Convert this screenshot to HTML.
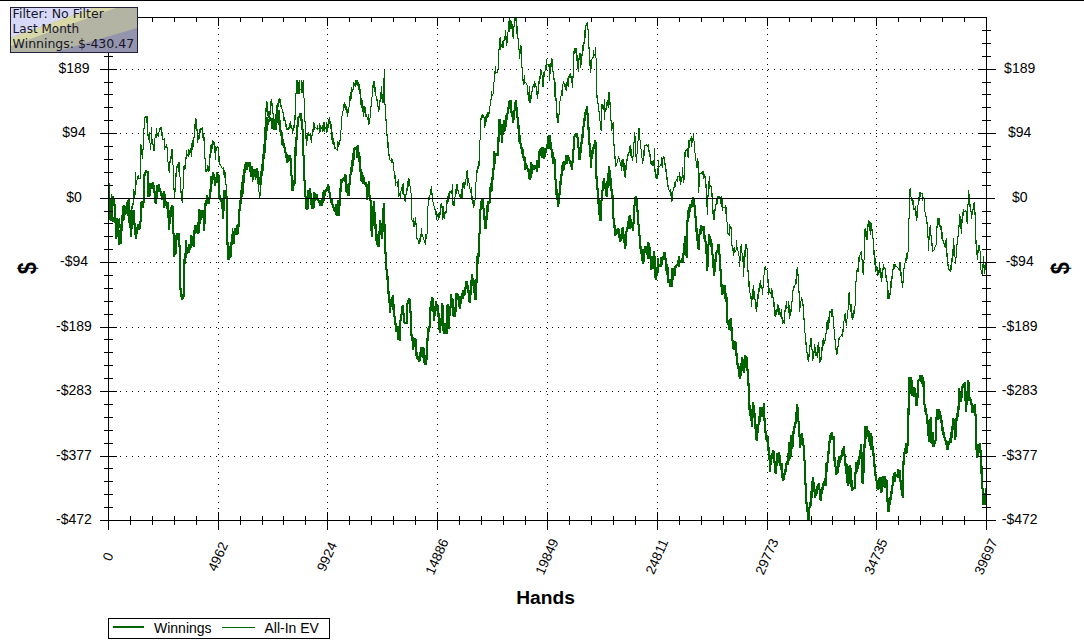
<!DOCTYPE html>
<html lang="en"><head><meta charset="utf-8"><title>Winnings chart</title>
<style>html,body{margin:0;padding:0;background:#fff;overflow:hidden}svg{display:block}</style></head>
<body>
<svg width="1084" height="643" viewBox="0 0 1084 643" style="display:block">
<rect x="0" y="0" width="1084" height="643" fill="#fff"/>
<rect x="0" y="0" width="1084" height="1" fill="#000"/>
<g fill="#000" shape-rendering="crispEdges"><path d="M114 456h1v1h-1zM120 456h1v1h-1zM126 456h1v1h-1zM132 456h1v1h-1zM138 456h1v1h-1zM144 456h1v1h-1zM150 456h1v1h-1zM156 456h1v1h-1zM162 456h1v1h-1zM168 456h1v1h-1zM174 456h1v1h-1zM180 456h1v1h-1zM186 456h1v1h-1zM192 456h1v1h-1zM198 456h1v1h-1zM204 456h1v1h-1zM210 456h1v1h-1zM216 456h1v1h-1zM222 456h1v1h-1zM228 456h1v1h-1zM234 456h1v1h-1zM240 456h1v1h-1zM246 456h1v1h-1zM252 456h1v1h-1zM258 456h1v1h-1zM264 456h1v1h-1zM270 456h1v1h-1zM276 456h1v1h-1zM282 456h1v1h-1zM288 456h1v1h-1zM294 456h1v1h-1zM300 456h1v1h-1zM306 456h1v1h-1zM312 456h1v1h-1zM318 456h1v1h-1zM324 456h1v1h-1zM330 456h1v1h-1zM336 456h1v1h-1zM342 456h1v1h-1zM348 456h1v1h-1zM354 456h1v1h-1zM360 456h1v1h-1zM366 456h1v1h-1zM372 456h1v1h-1zM378 456h1v1h-1zM384 456h1v1h-1zM390 456h1v1h-1zM396 456h1v1h-1zM402 456h1v1h-1zM408 456h1v1h-1zM414 456h1v1h-1zM420 456h1v1h-1zM426 456h1v1h-1zM432 456h1v1h-1zM438 456h1v1h-1zM444 456h1v1h-1zM450 456h1v1h-1zM456 456h1v1h-1zM462 456h1v1h-1zM468 456h1v1h-1zM474 456h1v1h-1zM480 456h1v1h-1zM486 456h1v1h-1zM492 456h1v1h-1zM498 456h1v1h-1zM504 456h1v1h-1zM510 456h1v1h-1zM516 456h1v1h-1zM522 456h1v1h-1zM528 456h1v1h-1zM534 456h1v1h-1zM540 456h1v1h-1zM546 456h1v1h-1zM552 456h1v1h-1zM558 456h1v1h-1zM564 456h1v1h-1zM570 456h1v1h-1zM576 456h1v1h-1zM582 456h1v1h-1zM588 456h1v1h-1zM594 456h1v1h-1zM600 456h1v1h-1zM606 456h1v1h-1zM612 456h1v1h-1zM618 456h1v1h-1zM624 456h1v1h-1zM630 456h1v1h-1zM636 456h1v1h-1zM642 456h1v1h-1zM648 456h1v1h-1zM654 456h1v1h-1zM660 456h1v1h-1zM666 456h1v1h-1zM672 456h1v1h-1zM678 456h1v1h-1zM684 456h1v1h-1zM690 456h1v1h-1zM696 456h1v1h-1zM702 456h1v1h-1zM708 456h1v1h-1zM714 456h1v1h-1zM720 456h1v1h-1zM726 456h1v1h-1zM732 456h1v1h-1zM738 456h1v1h-1zM744 456h1v1h-1zM750 456h1v1h-1zM756 456h1v1h-1zM762 456h1v1h-1zM768 456h1v1h-1zM774 456h1v1h-1zM780 456h1v1h-1zM786 456h1v1h-1zM792 456h1v1h-1zM798 456h1v1h-1zM804 456h1v1h-1zM810 456h1v1h-1zM816 456h1v1h-1zM822 456h1v1h-1zM828 456h1v1h-1zM834 456h1v1h-1zM840 456h1v1h-1zM846 456h1v1h-1zM852 456h1v1h-1zM858 456h1v1h-1zM864 456h1v1h-1zM870 456h1v1h-1zM876 456h1v1h-1zM882 456h1v1h-1zM888 456h1v1h-1zM894 456h1v1h-1zM900 456h1v1h-1zM906 456h1v1h-1zM912 456h1v1h-1zM918 456h1v1h-1zM924 456h1v1h-1zM930 456h1v1h-1zM936 456h1v1h-1zM942 456h1v1h-1zM948 456h1v1h-1zM954 456h1v1h-1zM960 456h1v1h-1zM966 456h1v1h-1zM972 456h1v1h-1zM978 456h1v1h-1zM984 456h1v1h-1zM114 391h1v1h-1zM120 391h1v1h-1zM126 391h1v1h-1zM132 391h1v1h-1zM138 391h1v1h-1zM144 391h1v1h-1zM150 391h1v1h-1zM156 391h1v1h-1zM162 391h1v1h-1zM168 391h1v1h-1zM174 391h1v1h-1zM180 391h1v1h-1zM186 391h1v1h-1zM192 391h1v1h-1zM198 391h1v1h-1zM204 391h1v1h-1zM210 391h1v1h-1zM216 391h1v1h-1zM222 391h1v1h-1zM228 391h1v1h-1zM234 391h1v1h-1zM240 391h1v1h-1zM246 391h1v1h-1zM252 391h1v1h-1zM258 391h1v1h-1zM264 391h1v1h-1zM270 391h1v1h-1zM276 391h1v1h-1zM282 391h1v1h-1zM288 391h1v1h-1zM294 391h1v1h-1zM300 391h1v1h-1zM306 391h1v1h-1zM312 391h1v1h-1zM318 391h1v1h-1zM324 391h1v1h-1zM330 391h1v1h-1zM336 391h1v1h-1zM342 391h1v1h-1zM348 391h1v1h-1zM354 391h1v1h-1zM360 391h1v1h-1zM366 391h1v1h-1zM372 391h1v1h-1zM378 391h1v1h-1zM384 391h1v1h-1zM390 391h1v1h-1zM396 391h1v1h-1zM402 391h1v1h-1zM408 391h1v1h-1zM414 391h1v1h-1zM420 391h1v1h-1zM426 391h1v1h-1zM432 391h1v1h-1zM438 391h1v1h-1zM444 391h1v1h-1zM450 391h1v1h-1zM456 391h1v1h-1zM462 391h1v1h-1zM468 391h1v1h-1zM474 391h1v1h-1zM480 391h1v1h-1zM486 391h1v1h-1zM492 391h1v1h-1zM498 391h1v1h-1zM504 391h1v1h-1zM510 391h1v1h-1zM516 391h1v1h-1zM522 391h1v1h-1zM528 391h1v1h-1zM534 391h1v1h-1zM540 391h1v1h-1zM546 391h1v1h-1zM552 391h1v1h-1zM558 391h1v1h-1zM564 391h1v1h-1zM570 391h1v1h-1zM576 391h1v1h-1zM582 391h1v1h-1zM588 391h1v1h-1zM594 391h1v1h-1zM600 391h1v1h-1zM606 391h1v1h-1zM612 391h1v1h-1zM618 391h1v1h-1zM624 391h1v1h-1zM630 391h1v1h-1zM636 391h1v1h-1zM642 391h1v1h-1zM648 391h1v1h-1zM654 391h1v1h-1zM660 391h1v1h-1zM666 391h1v1h-1zM672 391h1v1h-1zM678 391h1v1h-1zM684 391h1v1h-1zM690 391h1v1h-1zM696 391h1v1h-1zM702 391h1v1h-1zM708 391h1v1h-1zM714 391h1v1h-1zM720 391h1v1h-1zM726 391h1v1h-1zM732 391h1v1h-1zM738 391h1v1h-1zM744 391h1v1h-1zM750 391h1v1h-1zM756 391h1v1h-1zM762 391h1v1h-1zM768 391h1v1h-1zM774 391h1v1h-1zM780 391h1v1h-1zM786 391h1v1h-1zM792 391h1v1h-1zM798 391h1v1h-1zM804 391h1v1h-1zM810 391h1v1h-1zM816 391h1v1h-1zM822 391h1v1h-1zM828 391h1v1h-1zM834 391h1v1h-1zM840 391h1v1h-1zM846 391h1v1h-1zM852 391h1v1h-1zM858 391h1v1h-1zM864 391h1v1h-1zM870 391h1v1h-1zM876 391h1v1h-1zM882 391h1v1h-1zM888 391h1v1h-1zM894 391h1v1h-1zM900 391h1v1h-1zM906 391h1v1h-1zM912 391h1v1h-1zM918 391h1v1h-1zM924 391h1v1h-1zM930 391h1v1h-1zM936 391h1v1h-1zM942 391h1v1h-1zM948 391h1v1h-1zM954 391h1v1h-1zM960 391h1v1h-1zM966 391h1v1h-1zM972 391h1v1h-1zM978 391h1v1h-1zM984 391h1v1h-1zM114 327h1v1h-1zM120 327h1v1h-1zM126 327h1v1h-1zM132 327h1v1h-1zM138 327h1v1h-1zM144 327h1v1h-1zM150 327h1v1h-1zM156 327h1v1h-1zM162 327h1v1h-1zM168 327h1v1h-1zM174 327h1v1h-1zM180 327h1v1h-1zM186 327h1v1h-1zM192 327h1v1h-1zM198 327h1v1h-1zM204 327h1v1h-1zM210 327h1v1h-1zM216 327h1v1h-1zM222 327h1v1h-1zM228 327h1v1h-1zM234 327h1v1h-1zM240 327h1v1h-1zM246 327h1v1h-1zM252 327h1v1h-1zM258 327h1v1h-1zM264 327h1v1h-1zM270 327h1v1h-1zM276 327h1v1h-1zM282 327h1v1h-1zM288 327h1v1h-1zM294 327h1v1h-1zM300 327h1v1h-1zM306 327h1v1h-1zM312 327h1v1h-1zM318 327h1v1h-1zM324 327h1v1h-1zM330 327h1v1h-1zM336 327h1v1h-1zM342 327h1v1h-1zM348 327h1v1h-1zM354 327h1v1h-1zM360 327h1v1h-1zM366 327h1v1h-1zM372 327h1v1h-1zM378 327h1v1h-1zM384 327h1v1h-1zM390 327h1v1h-1zM396 327h1v1h-1zM402 327h1v1h-1zM408 327h1v1h-1zM414 327h1v1h-1zM420 327h1v1h-1zM426 327h1v1h-1zM432 327h1v1h-1zM438 327h1v1h-1zM444 327h1v1h-1zM450 327h1v1h-1zM456 327h1v1h-1zM462 327h1v1h-1zM468 327h1v1h-1zM474 327h1v1h-1zM480 327h1v1h-1zM486 327h1v1h-1zM492 327h1v1h-1zM498 327h1v1h-1zM504 327h1v1h-1zM510 327h1v1h-1zM516 327h1v1h-1zM522 327h1v1h-1zM528 327h1v1h-1zM534 327h1v1h-1zM540 327h1v1h-1zM546 327h1v1h-1zM552 327h1v1h-1zM558 327h1v1h-1zM564 327h1v1h-1zM570 327h1v1h-1zM576 327h1v1h-1zM582 327h1v1h-1zM588 327h1v1h-1zM594 327h1v1h-1zM600 327h1v1h-1zM606 327h1v1h-1zM612 327h1v1h-1zM618 327h1v1h-1zM624 327h1v1h-1zM630 327h1v1h-1zM636 327h1v1h-1zM642 327h1v1h-1zM648 327h1v1h-1zM654 327h1v1h-1zM660 327h1v1h-1zM666 327h1v1h-1zM672 327h1v1h-1zM678 327h1v1h-1zM684 327h1v1h-1zM690 327h1v1h-1zM696 327h1v1h-1zM702 327h1v1h-1zM708 327h1v1h-1zM714 327h1v1h-1zM720 327h1v1h-1zM726 327h1v1h-1zM732 327h1v1h-1zM738 327h1v1h-1zM744 327h1v1h-1zM750 327h1v1h-1zM756 327h1v1h-1zM762 327h1v1h-1zM768 327h1v1h-1zM774 327h1v1h-1zM780 327h1v1h-1zM786 327h1v1h-1zM792 327h1v1h-1zM798 327h1v1h-1zM804 327h1v1h-1zM810 327h1v1h-1zM816 327h1v1h-1zM822 327h1v1h-1zM828 327h1v1h-1zM834 327h1v1h-1zM840 327h1v1h-1zM846 327h1v1h-1zM852 327h1v1h-1zM858 327h1v1h-1zM864 327h1v1h-1zM870 327h1v1h-1zM876 327h1v1h-1zM882 327h1v1h-1zM888 327h1v1h-1zM894 327h1v1h-1zM900 327h1v1h-1zM906 327h1v1h-1zM912 327h1v1h-1zM918 327h1v1h-1zM924 327h1v1h-1zM930 327h1v1h-1zM936 327h1v1h-1zM942 327h1v1h-1zM948 327h1v1h-1zM954 327h1v1h-1zM960 327h1v1h-1zM966 327h1v1h-1zM972 327h1v1h-1zM978 327h1v1h-1zM984 327h1v1h-1zM114 262h1v1h-1zM120 262h1v1h-1zM126 262h1v1h-1zM132 262h1v1h-1zM138 262h1v1h-1zM144 262h1v1h-1zM150 262h1v1h-1zM156 262h1v1h-1zM162 262h1v1h-1zM168 262h1v1h-1zM174 262h1v1h-1zM180 262h1v1h-1zM186 262h1v1h-1zM192 262h1v1h-1zM198 262h1v1h-1zM204 262h1v1h-1zM210 262h1v1h-1zM216 262h1v1h-1zM222 262h1v1h-1zM228 262h1v1h-1zM234 262h1v1h-1zM240 262h1v1h-1zM246 262h1v1h-1zM252 262h1v1h-1zM258 262h1v1h-1zM264 262h1v1h-1zM270 262h1v1h-1zM276 262h1v1h-1zM282 262h1v1h-1zM288 262h1v1h-1zM294 262h1v1h-1zM300 262h1v1h-1zM306 262h1v1h-1zM312 262h1v1h-1zM318 262h1v1h-1zM324 262h1v1h-1zM330 262h1v1h-1zM336 262h1v1h-1zM342 262h1v1h-1zM348 262h1v1h-1zM354 262h1v1h-1zM360 262h1v1h-1zM366 262h1v1h-1zM372 262h1v1h-1zM378 262h1v1h-1zM384 262h1v1h-1zM390 262h1v1h-1zM396 262h1v1h-1zM402 262h1v1h-1zM408 262h1v1h-1zM414 262h1v1h-1zM420 262h1v1h-1zM426 262h1v1h-1zM432 262h1v1h-1zM438 262h1v1h-1zM444 262h1v1h-1zM450 262h1v1h-1zM456 262h1v1h-1zM462 262h1v1h-1zM468 262h1v1h-1zM474 262h1v1h-1zM480 262h1v1h-1zM486 262h1v1h-1zM492 262h1v1h-1zM498 262h1v1h-1zM504 262h1v1h-1zM510 262h1v1h-1zM516 262h1v1h-1zM522 262h1v1h-1zM528 262h1v1h-1zM534 262h1v1h-1zM540 262h1v1h-1zM546 262h1v1h-1zM552 262h1v1h-1zM558 262h1v1h-1zM564 262h1v1h-1zM570 262h1v1h-1zM576 262h1v1h-1zM582 262h1v1h-1zM588 262h1v1h-1zM594 262h1v1h-1zM600 262h1v1h-1zM606 262h1v1h-1zM612 262h1v1h-1zM618 262h1v1h-1zM624 262h1v1h-1zM630 262h1v1h-1zM636 262h1v1h-1zM642 262h1v1h-1zM648 262h1v1h-1zM654 262h1v1h-1zM660 262h1v1h-1zM666 262h1v1h-1zM672 262h1v1h-1zM678 262h1v1h-1zM684 262h1v1h-1zM690 262h1v1h-1zM696 262h1v1h-1zM702 262h1v1h-1zM708 262h1v1h-1zM714 262h1v1h-1zM720 262h1v1h-1zM726 262h1v1h-1zM732 262h1v1h-1zM738 262h1v1h-1zM744 262h1v1h-1zM750 262h1v1h-1zM756 262h1v1h-1zM762 262h1v1h-1zM768 262h1v1h-1zM774 262h1v1h-1zM780 262h1v1h-1zM786 262h1v1h-1zM792 262h1v1h-1zM798 262h1v1h-1zM804 262h1v1h-1zM810 262h1v1h-1zM816 262h1v1h-1zM822 262h1v1h-1zM828 262h1v1h-1zM834 262h1v1h-1zM840 262h1v1h-1zM846 262h1v1h-1zM852 262h1v1h-1zM858 262h1v1h-1zM864 262h1v1h-1zM870 262h1v1h-1zM876 262h1v1h-1zM882 262h1v1h-1zM888 262h1v1h-1zM894 262h1v1h-1zM900 262h1v1h-1zM906 262h1v1h-1zM912 262h1v1h-1zM918 262h1v1h-1zM924 262h1v1h-1zM930 262h1v1h-1zM936 262h1v1h-1zM942 262h1v1h-1zM948 262h1v1h-1zM954 262h1v1h-1zM960 262h1v1h-1zM966 262h1v1h-1zM972 262h1v1h-1zM978 262h1v1h-1zM984 262h1v1h-1zM114 133h1v1h-1zM120 133h1v1h-1zM126 133h1v1h-1zM132 133h1v1h-1zM138 133h1v1h-1zM144 133h1v1h-1zM150 133h1v1h-1zM156 133h1v1h-1zM162 133h1v1h-1zM168 133h1v1h-1zM174 133h1v1h-1zM180 133h1v1h-1zM186 133h1v1h-1zM192 133h1v1h-1zM198 133h1v1h-1zM204 133h1v1h-1zM210 133h1v1h-1zM216 133h1v1h-1zM222 133h1v1h-1zM228 133h1v1h-1zM234 133h1v1h-1zM240 133h1v1h-1zM246 133h1v1h-1zM252 133h1v1h-1zM258 133h1v1h-1zM264 133h1v1h-1zM270 133h1v1h-1zM276 133h1v1h-1zM282 133h1v1h-1zM288 133h1v1h-1zM294 133h1v1h-1zM300 133h1v1h-1zM306 133h1v1h-1zM312 133h1v1h-1zM318 133h1v1h-1zM324 133h1v1h-1zM330 133h1v1h-1zM336 133h1v1h-1zM342 133h1v1h-1zM348 133h1v1h-1zM354 133h1v1h-1zM360 133h1v1h-1zM366 133h1v1h-1zM372 133h1v1h-1zM378 133h1v1h-1zM384 133h1v1h-1zM390 133h1v1h-1zM396 133h1v1h-1zM402 133h1v1h-1zM408 133h1v1h-1zM414 133h1v1h-1zM420 133h1v1h-1zM426 133h1v1h-1zM432 133h1v1h-1zM438 133h1v1h-1zM444 133h1v1h-1zM450 133h1v1h-1zM456 133h1v1h-1zM462 133h1v1h-1zM468 133h1v1h-1zM474 133h1v1h-1zM480 133h1v1h-1zM486 133h1v1h-1zM492 133h1v1h-1zM498 133h1v1h-1zM504 133h1v1h-1zM510 133h1v1h-1zM516 133h1v1h-1zM522 133h1v1h-1zM528 133h1v1h-1zM534 133h1v1h-1zM540 133h1v1h-1zM546 133h1v1h-1zM552 133h1v1h-1zM558 133h1v1h-1zM564 133h1v1h-1zM570 133h1v1h-1zM576 133h1v1h-1zM582 133h1v1h-1zM588 133h1v1h-1zM594 133h1v1h-1zM600 133h1v1h-1zM606 133h1v1h-1zM612 133h1v1h-1zM618 133h1v1h-1zM624 133h1v1h-1zM630 133h1v1h-1zM636 133h1v1h-1zM642 133h1v1h-1zM648 133h1v1h-1zM654 133h1v1h-1zM660 133h1v1h-1zM666 133h1v1h-1zM672 133h1v1h-1zM678 133h1v1h-1zM684 133h1v1h-1zM690 133h1v1h-1zM696 133h1v1h-1zM702 133h1v1h-1zM708 133h1v1h-1zM714 133h1v1h-1zM720 133h1v1h-1zM726 133h1v1h-1zM732 133h1v1h-1zM738 133h1v1h-1zM744 133h1v1h-1zM750 133h1v1h-1zM756 133h1v1h-1zM762 133h1v1h-1zM768 133h1v1h-1zM774 133h1v1h-1zM780 133h1v1h-1zM786 133h1v1h-1zM792 133h1v1h-1zM798 133h1v1h-1zM804 133h1v1h-1zM810 133h1v1h-1zM816 133h1v1h-1zM822 133h1v1h-1zM828 133h1v1h-1zM834 133h1v1h-1zM840 133h1v1h-1zM846 133h1v1h-1zM852 133h1v1h-1zM858 133h1v1h-1zM864 133h1v1h-1zM870 133h1v1h-1zM876 133h1v1h-1zM882 133h1v1h-1zM888 133h1v1h-1zM894 133h1v1h-1zM900 133h1v1h-1zM906 133h1v1h-1zM912 133h1v1h-1zM918 133h1v1h-1zM924 133h1v1h-1zM930 133h1v1h-1zM936 133h1v1h-1zM942 133h1v1h-1zM948 133h1v1h-1zM954 133h1v1h-1zM960 133h1v1h-1zM966 133h1v1h-1zM972 133h1v1h-1zM978 133h1v1h-1zM984 133h1v1h-1zM114 69h1v1h-1zM120 69h1v1h-1zM126 69h1v1h-1zM132 69h1v1h-1zM138 69h1v1h-1zM144 69h1v1h-1zM150 69h1v1h-1zM156 69h1v1h-1zM162 69h1v1h-1zM168 69h1v1h-1zM174 69h1v1h-1zM180 69h1v1h-1zM186 69h1v1h-1zM192 69h1v1h-1zM198 69h1v1h-1zM204 69h1v1h-1zM210 69h1v1h-1zM216 69h1v1h-1zM222 69h1v1h-1zM228 69h1v1h-1zM234 69h1v1h-1zM240 69h1v1h-1zM246 69h1v1h-1zM252 69h1v1h-1zM258 69h1v1h-1zM264 69h1v1h-1zM270 69h1v1h-1zM276 69h1v1h-1zM282 69h1v1h-1zM288 69h1v1h-1zM294 69h1v1h-1zM300 69h1v1h-1zM306 69h1v1h-1zM312 69h1v1h-1zM318 69h1v1h-1zM324 69h1v1h-1zM330 69h1v1h-1zM336 69h1v1h-1zM342 69h1v1h-1zM348 69h1v1h-1zM354 69h1v1h-1zM360 69h1v1h-1zM366 69h1v1h-1zM372 69h1v1h-1zM378 69h1v1h-1zM384 69h1v1h-1zM390 69h1v1h-1zM396 69h1v1h-1zM402 69h1v1h-1zM408 69h1v1h-1zM414 69h1v1h-1zM420 69h1v1h-1zM426 69h1v1h-1zM432 69h1v1h-1zM438 69h1v1h-1zM444 69h1v1h-1zM450 69h1v1h-1zM456 69h1v1h-1zM462 69h1v1h-1zM468 69h1v1h-1zM474 69h1v1h-1zM480 69h1v1h-1zM486 69h1v1h-1zM492 69h1v1h-1zM498 69h1v1h-1zM504 69h1v1h-1zM510 69h1v1h-1zM516 69h1v1h-1zM522 69h1v1h-1zM528 69h1v1h-1zM534 69h1v1h-1zM540 69h1v1h-1zM546 69h1v1h-1zM552 69h1v1h-1zM558 69h1v1h-1zM564 69h1v1h-1zM570 69h1v1h-1zM576 69h1v1h-1zM582 69h1v1h-1zM588 69h1v1h-1zM594 69h1v1h-1zM600 69h1v1h-1zM606 69h1v1h-1zM612 69h1v1h-1zM618 69h1v1h-1zM624 69h1v1h-1zM630 69h1v1h-1zM636 69h1v1h-1zM642 69h1v1h-1zM648 69h1v1h-1zM654 69h1v1h-1zM660 69h1v1h-1zM666 69h1v1h-1zM672 69h1v1h-1zM678 69h1v1h-1zM684 69h1v1h-1zM690 69h1v1h-1zM696 69h1v1h-1zM702 69h1v1h-1zM708 69h1v1h-1zM714 69h1v1h-1zM720 69h1v1h-1zM726 69h1v1h-1zM732 69h1v1h-1zM738 69h1v1h-1zM744 69h1v1h-1zM750 69h1v1h-1zM756 69h1v1h-1zM762 69h1v1h-1zM768 69h1v1h-1zM774 69h1v1h-1zM780 69h1v1h-1zM786 69h1v1h-1zM792 69h1v1h-1zM798 69h1v1h-1zM804 69h1v1h-1zM810 69h1v1h-1zM816 69h1v1h-1zM822 69h1v1h-1zM828 69h1v1h-1zM834 69h1v1h-1zM840 69h1v1h-1zM846 69h1v1h-1zM852 69h1v1h-1zM858 69h1v1h-1zM864 69h1v1h-1zM870 69h1v1h-1zM876 69h1v1h-1zM882 69h1v1h-1zM888 69h1v1h-1zM894 69h1v1h-1zM900 69h1v1h-1zM906 69h1v1h-1zM912 69h1v1h-1zM918 69h1v1h-1zM924 69h1v1h-1zM930 69h1v1h-1zM936 69h1v1h-1zM942 69h1v1h-1zM948 69h1v1h-1zM954 69h1v1h-1zM960 69h1v1h-1zM966 69h1v1h-1zM972 69h1v1h-1zM978 69h1v1h-1zM984 69h1v1h-1zM218 514h1v1h-1zM218 508h1v1h-1zM218 502h1v1h-1zM218 496h1v1h-1zM218 490h1v1h-1zM218 484h1v1h-1zM218 478h1v1h-1zM218 472h1v1h-1zM218 466h1v1h-1zM218 460h1v1h-1zM218 454h1v1h-1zM218 448h1v1h-1zM218 442h1v1h-1zM218 436h1v1h-1zM218 430h1v1h-1zM218 424h1v1h-1zM218 418h1v1h-1zM218 412h1v1h-1zM218 406h1v1h-1zM218 400h1v1h-1zM218 394h1v1h-1zM218 388h1v1h-1zM218 382h1v1h-1zM218 376h1v1h-1zM218 370h1v1h-1zM218 364h1v1h-1zM218 358h1v1h-1zM218 352h1v1h-1zM218 346h1v1h-1zM218 340h1v1h-1zM218 334h1v1h-1zM218 328h1v1h-1zM218 322h1v1h-1zM218 316h1v1h-1zM218 310h1v1h-1zM218 304h1v1h-1zM218 298h1v1h-1zM218 292h1v1h-1zM218 286h1v1h-1zM218 280h1v1h-1zM218 274h1v1h-1zM218 268h1v1h-1zM218 262h1v1h-1zM218 256h1v1h-1zM218 250h1v1h-1zM218 244h1v1h-1zM218 238h1v1h-1zM218 232h1v1h-1zM218 226h1v1h-1zM218 220h1v1h-1zM218 214h1v1h-1zM218 208h1v1h-1zM218 202h1v1h-1zM218 196h1v1h-1zM218 190h1v1h-1zM218 184h1v1h-1zM218 178h1v1h-1zM218 172h1v1h-1zM218 166h1v1h-1zM218 160h1v1h-1zM218 154h1v1h-1zM218 148h1v1h-1zM218 142h1v1h-1zM218 136h1v1h-1zM218 130h1v1h-1zM218 124h1v1h-1zM218 118h1v1h-1zM218 112h1v1h-1zM218 106h1v1h-1zM218 100h1v1h-1zM218 94h1v1h-1zM218 88h1v1h-1zM218 82h1v1h-1zM218 76h1v1h-1zM218 70h1v1h-1zM218 64h1v1h-1zM218 58h1v1h-1zM218 52h1v1h-1zM218 46h1v1h-1zM218 40h1v1h-1zM218 34h1v1h-1zM218 28h1v1h-1zM218 22h1v1h-1zM327 514h1v1h-1zM327 508h1v1h-1zM327 502h1v1h-1zM327 496h1v1h-1zM327 490h1v1h-1zM327 484h1v1h-1zM327 478h1v1h-1zM327 472h1v1h-1zM327 466h1v1h-1zM327 460h1v1h-1zM327 454h1v1h-1zM327 448h1v1h-1zM327 442h1v1h-1zM327 436h1v1h-1zM327 430h1v1h-1zM327 424h1v1h-1zM327 418h1v1h-1zM327 412h1v1h-1zM327 406h1v1h-1zM327 400h1v1h-1zM327 394h1v1h-1zM327 388h1v1h-1zM327 382h1v1h-1zM327 376h1v1h-1zM327 370h1v1h-1zM327 364h1v1h-1zM327 358h1v1h-1zM327 352h1v1h-1zM327 346h1v1h-1zM327 340h1v1h-1zM327 334h1v1h-1zM327 328h1v1h-1zM327 322h1v1h-1zM327 316h1v1h-1zM327 310h1v1h-1zM327 304h1v1h-1zM327 298h1v1h-1zM327 292h1v1h-1zM327 286h1v1h-1zM327 280h1v1h-1zM327 274h1v1h-1zM327 268h1v1h-1zM327 262h1v1h-1zM327 256h1v1h-1zM327 250h1v1h-1zM327 244h1v1h-1zM327 238h1v1h-1zM327 232h1v1h-1zM327 226h1v1h-1zM327 220h1v1h-1zM327 214h1v1h-1zM327 208h1v1h-1zM327 202h1v1h-1zM327 196h1v1h-1zM327 190h1v1h-1zM327 184h1v1h-1zM327 178h1v1h-1zM327 172h1v1h-1zM327 166h1v1h-1zM327 160h1v1h-1zM327 154h1v1h-1zM327 148h1v1h-1zM327 142h1v1h-1zM327 136h1v1h-1zM327 130h1v1h-1zM327 124h1v1h-1zM327 118h1v1h-1zM327 112h1v1h-1zM327 106h1v1h-1zM327 100h1v1h-1zM327 94h1v1h-1zM327 88h1v1h-1zM327 82h1v1h-1zM327 76h1v1h-1zM327 70h1v1h-1zM327 64h1v1h-1zM327 58h1v1h-1zM327 52h1v1h-1zM327 46h1v1h-1zM327 40h1v1h-1zM327 34h1v1h-1zM327 28h1v1h-1zM327 22h1v1h-1zM437 514h1v1h-1zM437 508h1v1h-1zM437 502h1v1h-1zM437 496h1v1h-1zM437 490h1v1h-1zM437 484h1v1h-1zM437 478h1v1h-1zM437 472h1v1h-1zM437 466h1v1h-1zM437 460h1v1h-1zM437 454h1v1h-1zM437 448h1v1h-1zM437 442h1v1h-1zM437 436h1v1h-1zM437 430h1v1h-1zM437 424h1v1h-1zM437 418h1v1h-1zM437 412h1v1h-1zM437 406h1v1h-1zM437 400h1v1h-1zM437 394h1v1h-1zM437 388h1v1h-1zM437 382h1v1h-1zM437 376h1v1h-1zM437 370h1v1h-1zM437 364h1v1h-1zM437 358h1v1h-1zM437 352h1v1h-1zM437 346h1v1h-1zM437 340h1v1h-1zM437 334h1v1h-1zM437 328h1v1h-1zM437 322h1v1h-1zM437 316h1v1h-1zM437 310h1v1h-1zM437 304h1v1h-1zM437 298h1v1h-1zM437 292h1v1h-1zM437 286h1v1h-1zM437 280h1v1h-1zM437 274h1v1h-1zM437 268h1v1h-1zM437 262h1v1h-1zM437 256h1v1h-1zM437 250h1v1h-1zM437 244h1v1h-1zM437 238h1v1h-1zM437 232h1v1h-1zM437 226h1v1h-1zM437 220h1v1h-1zM437 214h1v1h-1zM437 208h1v1h-1zM437 202h1v1h-1zM437 196h1v1h-1zM437 190h1v1h-1zM437 184h1v1h-1zM437 178h1v1h-1zM437 172h1v1h-1zM437 166h1v1h-1zM437 160h1v1h-1zM437 154h1v1h-1zM437 148h1v1h-1zM437 142h1v1h-1zM437 136h1v1h-1zM437 130h1v1h-1zM437 124h1v1h-1zM437 118h1v1h-1zM437 112h1v1h-1zM437 106h1v1h-1zM437 100h1v1h-1zM437 94h1v1h-1zM437 88h1v1h-1zM437 82h1v1h-1zM437 76h1v1h-1zM437 70h1v1h-1zM437 64h1v1h-1zM437 58h1v1h-1zM437 52h1v1h-1zM437 46h1v1h-1zM437 40h1v1h-1zM437 34h1v1h-1zM437 28h1v1h-1zM437 22h1v1h-1zM547 514h1v1h-1zM547 508h1v1h-1zM547 502h1v1h-1zM547 496h1v1h-1zM547 490h1v1h-1zM547 484h1v1h-1zM547 478h1v1h-1zM547 472h1v1h-1zM547 466h1v1h-1zM547 460h1v1h-1zM547 454h1v1h-1zM547 448h1v1h-1zM547 442h1v1h-1zM547 436h1v1h-1zM547 430h1v1h-1zM547 424h1v1h-1zM547 418h1v1h-1zM547 412h1v1h-1zM547 406h1v1h-1zM547 400h1v1h-1zM547 394h1v1h-1zM547 388h1v1h-1zM547 382h1v1h-1zM547 376h1v1h-1zM547 370h1v1h-1zM547 364h1v1h-1zM547 358h1v1h-1zM547 352h1v1h-1zM547 346h1v1h-1zM547 340h1v1h-1zM547 334h1v1h-1zM547 328h1v1h-1zM547 322h1v1h-1zM547 316h1v1h-1zM547 310h1v1h-1zM547 304h1v1h-1zM547 298h1v1h-1zM547 292h1v1h-1zM547 286h1v1h-1zM547 280h1v1h-1zM547 274h1v1h-1zM547 268h1v1h-1zM547 262h1v1h-1zM547 256h1v1h-1zM547 250h1v1h-1zM547 244h1v1h-1zM547 238h1v1h-1zM547 232h1v1h-1zM547 226h1v1h-1zM547 220h1v1h-1zM547 214h1v1h-1zM547 208h1v1h-1zM547 202h1v1h-1zM547 196h1v1h-1zM547 190h1v1h-1zM547 184h1v1h-1zM547 178h1v1h-1zM547 172h1v1h-1zM547 166h1v1h-1zM547 160h1v1h-1zM547 154h1v1h-1zM547 148h1v1h-1zM547 142h1v1h-1zM547 136h1v1h-1zM547 130h1v1h-1zM547 124h1v1h-1zM547 118h1v1h-1zM547 112h1v1h-1zM547 106h1v1h-1zM547 100h1v1h-1zM547 94h1v1h-1zM547 88h1v1h-1zM547 82h1v1h-1zM547 76h1v1h-1zM547 70h1v1h-1zM547 64h1v1h-1zM547 58h1v1h-1zM547 52h1v1h-1zM547 46h1v1h-1zM547 40h1v1h-1zM547 34h1v1h-1zM547 28h1v1h-1zM547 22h1v1h-1zM657 514h1v1h-1zM657 508h1v1h-1zM657 502h1v1h-1zM657 496h1v1h-1zM657 490h1v1h-1zM657 484h1v1h-1zM657 478h1v1h-1zM657 472h1v1h-1zM657 466h1v1h-1zM657 460h1v1h-1zM657 454h1v1h-1zM657 448h1v1h-1zM657 442h1v1h-1zM657 436h1v1h-1zM657 430h1v1h-1zM657 424h1v1h-1zM657 418h1v1h-1zM657 412h1v1h-1zM657 406h1v1h-1zM657 400h1v1h-1zM657 394h1v1h-1zM657 388h1v1h-1zM657 382h1v1h-1zM657 376h1v1h-1zM657 370h1v1h-1zM657 364h1v1h-1zM657 358h1v1h-1zM657 352h1v1h-1zM657 346h1v1h-1zM657 340h1v1h-1zM657 334h1v1h-1zM657 328h1v1h-1zM657 322h1v1h-1zM657 316h1v1h-1zM657 310h1v1h-1zM657 304h1v1h-1zM657 298h1v1h-1zM657 292h1v1h-1zM657 286h1v1h-1zM657 280h1v1h-1zM657 274h1v1h-1zM657 268h1v1h-1zM657 262h1v1h-1zM657 256h1v1h-1zM657 250h1v1h-1zM657 244h1v1h-1zM657 238h1v1h-1zM657 232h1v1h-1zM657 226h1v1h-1zM657 220h1v1h-1zM657 214h1v1h-1zM657 208h1v1h-1zM657 202h1v1h-1zM657 196h1v1h-1zM657 190h1v1h-1zM657 184h1v1h-1zM657 178h1v1h-1zM657 172h1v1h-1zM657 166h1v1h-1zM657 160h1v1h-1zM657 154h1v1h-1zM657 148h1v1h-1zM657 142h1v1h-1zM657 136h1v1h-1zM657 130h1v1h-1zM657 124h1v1h-1zM657 118h1v1h-1zM657 112h1v1h-1zM657 106h1v1h-1zM657 100h1v1h-1zM657 94h1v1h-1zM657 88h1v1h-1zM657 82h1v1h-1zM657 76h1v1h-1zM657 70h1v1h-1zM657 64h1v1h-1zM657 58h1v1h-1zM657 52h1v1h-1zM657 46h1v1h-1zM657 40h1v1h-1zM657 34h1v1h-1zM657 28h1v1h-1zM657 22h1v1h-1zM767 514h1v1h-1zM767 508h1v1h-1zM767 502h1v1h-1zM767 496h1v1h-1zM767 490h1v1h-1zM767 484h1v1h-1zM767 478h1v1h-1zM767 472h1v1h-1zM767 466h1v1h-1zM767 460h1v1h-1zM767 454h1v1h-1zM767 448h1v1h-1zM767 442h1v1h-1zM767 436h1v1h-1zM767 430h1v1h-1zM767 424h1v1h-1zM767 418h1v1h-1zM767 412h1v1h-1zM767 406h1v1h-1zM767 400h1v1h-1zM767 394h1v1h-1zM767 388h1v1h-1zM767 382h1v1h-1zM767 376h1v1h-1zM767 370h1v1h-1zM767 364h1v1h-1zM767 358h1v1h-1zM767 352h1v1h-1zM767 346h1v1h-1zM767 340h1v1h-1zM767 334h1v1h-1zM767 328h1v1h-1zM767 322h1v1h-1zM767 316h1v1h-1zM767 310h1v1h-1zM767 304h1v1h-1zM767 298h1v1h-1zM767 292h1v1h-1zM767 286h1v1h-1zM767 280h1v1h-1zM767 274h1v1h-1zM767 268h1v1h-1zM767 262h1v1h-1zM767 256h1v1h-1zM767 250h1v1h-1zM767 244h1v1h-1zM767 238h1v1h-1zM767 232h1v1h-1zM767 226h1v1h-1zM767 220h1v1h-1zM767 214h1v1h-1zM767 208h1v1h-1zM767 202h1v1h-1zM767 196h1v1h-1zM767 190h1v1h-1zM767 184h1v1h-1zM767 178h1v1h-1zM767 172h1v1h-1zM767 166h1v1h-1zM767 160h1v1h-1zM767 154h1v1h-1zM767 148h1v1h-1zM767 142h1v1h-1zM767 136h1v1h-1zM767 130h1v1h-1zM767 124h1v1h-1zM767 118h1v1h-1zM767 112h1v1h-1zM767 106h1v1h-1zM767 100h1v1h-1zM767 94h1v1h-1zM767 88h1v1h-1zM767 82h1v1h-1zM767 76h1v1h-1zM767 70h1v1h-1zM767 64h1v1h-1zM767 58h1v1h-1zM767 52h1v1h-1zM767 46h1v1h-1zM767 40h1v1h-1zM767 34h1v1h-1zM767 28h1v1h-1zM767 22h1v1h-1zM876 514h1v1h-1zM876 508h1v1h-1zM876 502h1v1h-1zM876 496h1v1h-1zM876 490h1v1h-1zM876 484h1v1h-1zM876 478h1v1h-1zM876 472h1v1h-1zM876 466h1v1h-1zM876 460h1v1h-1zM876 454h1v1h-1zM876 448h1v1h-1zM876 442h1v1h-1zM876 436h1v1h-1zM876 430h1v1h-1zM876 424h1v1h-1zM876 418h1v1h-1zM876 412h1v1h-1zM876 406h1v1h-1zM876 400h1v1h-1zM876 394h1v1h-1zM876 388h1v1h-1zM876 382h1v1h-1zM876 376h1v1h-1zM876 370h1v1h-1zM876 364h1v1h-1zM876 358h1v1h-1zM876 352h1v1h-1zM876 346h1v1h-1zM876 340h1v1h-1zM876 334h1v1h-1zM876 328h1v1h-1zM876 322h1v1h-1zM876 316h1v1h-1zM876 310h1v1h-1zM876 304h1v1h-1zM876 298h1v1h-1zM876 292h1v1h-1zM876 286h1v1h-1zM876 280h1v1h-1zM876 274h1v1h-1zM876 268h1v1h-1zM876 262h1v1h-1zM876 256h1v1h-1zM876 250h1v1h-1zM876 244h1v1h-1zM876 238h1v1h-1zM876 232h1v1h-1zM876 226h1v1h-1zM876 220h1v1h-1zM876 214h1v1h-1zM876 208h1v1h-1zM876 202h1v1h-1zM876 196h1v1h-1zM876 190h1v1h-1zM876 184h1v1h-1zM876 178h1v1h-1zM876 172h1v1h-1zM876 166h1v1h-1zM876 160h1v1h-1zM876 154h1v1h-1zM876 148h1v1h-1zM876 142h1v1h-1zM876 136h1v1h-1zM876 130h1v1h-1zM876 124h1v1h-1zM876 118h1v1h-1zM876 112h1v1h-1zM876 106h1v1h-1zM876 100h1v1h-1zM876 94h1v1h-1zM876 88h1v1h-1zM876 82h1v1h-1zM876 76h1v1h-1zM876 70h1v1h-1zM876 64h1v1h-1zM876 58h1v1h-1zM876 52h1v1h-1zM876 46h1v1h-1zM876 40h1v1h-1zM876 34h1v1h-1zM876 28h1v1h-1zM876 22h1v1h-1z"/></g>
<g fill="#006400" shape-rendering="crispEdges">
<path d="M108 192h1v6h-1zM109 183h1v23h-1zM110 198h1v10h-1zM111 194h1v13h-1zM112 206h1v16h-1zM113 217h1v5h-1zM114 211h1v9h-1zM115 212h1v10h-1zM116 220h1v12h-1zM117 225h1v12h-1zM118 220h1v6h-1zM119 218h1v10h-1zM120 224h1v13h-1zM121 225h1v12h-1zM122 217h1v14h-1zM123 214h1v7h-1zM124 208h1v12h-1zM125 209h1v2h-1zM126 205h1v7h-1zM127 205h1v11h-1zM128 209h1v14h-1zM129 218h1v4h-1zM130 211h1v9h-1zM131 206h1v11h-1zM132 203h1v6h-1zM133 189h1v16h-1zM134 191h1v7h-1zM135 172h1v23h-1zM136 180h1v5h-1zM137 176h1v4h-1zM138 175h1v4h-1zM139 178h1v1h-1zM140 144h1v35h-1zM141 145h1v10h-1zM142 149h1v10h-1zM143 128h1v22h-1zM144 117h1v12h-1zM145 116h1v2h-1zM146 116h1v7h-1zM147 116h1v20h-1zM148 134h1v6h-1zM149 132h1v11h-1zM150 143h1v7h-1zM151 127h1v17h-1zM152 139h1v6h-1zM153 144h1v7h-1zM154 138h1v13h-1zM155 134h1v4h-1zM156 128h1v10h-1zM157 133h1v3h-1zM158 132h1v5h-1zM159 128h1v4h-1zM160 127h1v3h-1zM161 127h1v9h-1zM162 132h1v8h-1zM163 139h1v1h-1zM164 138h1v12h-1zM165 146h1v2h-1zM166 144h1v4h-1zM167 147h1v15h-1zM168 162h1v9h-1zM169 161h1v12h-1zM170 156h1v7h-1zM171 149h1v10h-1zM172 149h1v16h-1zM173 165h1v25h-1zM174 188h1v10h-1zM175 173h1v19h-1zM176 166h1v11h-1zM177 164h1v4h-1zM178 162h1v10h-1zM179 162h1v15h-1zM180 177h1v16h-1zM181 191h1v10h-1zM182 189h1v14h-1zM183 166h1v23h-1zM184 165h1v5h-1zM185 157h1v12h-1zM186 150h1v9h-1zM187 154h1v2h-1zM188 149h1v8h-1zM189 150h1v5h-1zM190 148h1v5h-1zM191 143h1v14h-1zM192 140h1v10h-1zM193 137h1v10h-1zM194 124h1v14h-1zM195 118h1v11h-1zM196 119h1v12h-1zM197 129h1v14h-1zM198 135h1v5h-1zM199 129h1v10h-1zM200 128h1v5h-1zM201 128h1v2h-1zM202 127h1v11h-1zM203 133h1v8h-1zM204 137h1v22h-1zM205 158h1v14h-1zM206 169h1v3h-1zM207 165h1v6h-1zM208 166h1v6h-1zM209 154h1v17h-1zM210 145h1v13h-1zM211 144h1v9h-1zM212 140h1v9h-1zM213 141h1v4h-1zM214 142h1v11h-1zM215 146h1v14h-1zM216 147h1v4h-1zM217 146h1v2h-1zM218 147h1v15h-1zM219 156h1v9h-1zM220 164h1v2h-1zM221 166h1v2h-1zM222 168h1v1h-1zM223 167h1v8h-1zM224 170h1v8h-1zM225 172h1v13h-1zM226 184h1v60h-1zM227 241h1v15h-1zM228 249h1v8h-1zM229 246h1v11h-1zM230 244h1v5h-1zM231 236h1v8h-1zM232 228h1v12h-1zM233 231h1v1h-1zM234 228h1v5h-1zM235 228h1v2h-1zM236 225h1v4h-1zM237 224h1v5h-1zM238 209h1v17h-1zM239 201h1v9h-1zM240 190h1v12h-1zM241 182h1v15h-1zM242 176h1v11h-1zM243 169h1v12h-1zM244 164h1v11h-1zM245 164h1v2h-1zM246 164h1v1h-1zM247 162h1v8h-1zM248 164h1v1h-1zM249 164h1v4h-1zM250 166h1v6h-1zM251 172h1v2h-1zM252 166h1v16h-1zM253 172h1v5h-1zM254 169h1v4h-1zM255 169h1v11h-1zM256 174h1v3h-1zM257 177h1v4h-1zM258 181h1v11h-1zM259 192h1v7h-1zM260 185h1v11h-1zM261 174h1v11h-1zM262 158h1v17h-1zM263 144h1v16h-1zM264 127h1v19h-1zM265 108h1v21h-1zM266 101h1v11h-1zM267 102h1v14h-1zM268 111h1v7h-1zM269 111h1v7h-1zM270 101h1v14h-1zM271 99h1v7h-1zM272 103h1v11h-1zM273 113h1v13h-1zM274 119h1v7h-1zM275 114h1v6h-1zM276 105h1v10h-1zM277 103h1v7h-1zM278 99h1v8h-1zM279 98h1v5h-1zM280 99h1v8h-1zM281 105h1v4h-1zM282 109h1v4h-1zM283 112h1v9h-1zM284 117h1v4h-1zM285 120h1v7h-1zM286 124h1v6h-1zM287 128h1v2h-1zM288 127h1v3h-1zM289 123h1v6h-1zM290 121h1v7h-1zM291 125h1v4h-1zM292 128h1v6h-1zM293 125h1v6h-1zM294 115h1v13h-1zM295 93h1v27h-1zM296 80h1v14h-1zM297 80h1v14h-1zM298 82h1v12h-1zM299 80h1v14h-1zM300 89h1v1h-1zM301 80h1v13h-1zM302 82h1v11h-1zM303 80h1v18h-1zM304 98h1v24h-1zM305 121h1v18h-1zM306 135h1v11h-1zM307 133h1v8h-1zM308 132h1v4h-1zM309 134h1v2h-1zM310 133h1v7h-1zM311 135h1v8h-1zM312 129h1v7h-1zM313 122h1v10h-1zM314 123h1v7h-1zM315 127h1v1h-1zM316 128h1v1h-1zM317 125h1v5h-1zM318 128h1v1h-1zM319 123h1v10h-1zM320 125h1v7h-1zM321 127h1v2h-1zM322 125h1v7h-1zM323 122h1v9h-1zM324 122h1v10h-1zM325 127h1v2h-1zM326 122h1v11h-1zM327 124h1v8h-1zM328 119h1v9h-1zM329 117h1v7h-1zM330 121h1v8h-1zM331 124h1v16h-1zM332 132h1v12h-1zM333 138h1v7h-1zM334 142h1v7h-1zM335 147h1v2h-1zM336 149h1v1h-1zM337 141h1v10h-1zM338 142h1v5h-1zM339 140h1v5h-1zM340 130h1v11h-1zM341 116h1v14h-1zM342 111h1v5h-1zM343 104h1v7h-1zM344 102h1v6h-1zM345 104h1v6h-1zM346 106h1v7h-1zM347 109h1v8h-1zM348 107h1v6h-1zM349 96h1v11h-1zM350 92h1v9h-1zM351 87h1v12h-1zM352 89h1v3h-1zM353 82h1v8h-1zM354 83h1v3h-1zM355 80h1v7h-1zM356 80h1v5h-1zM357 80h1v6h-1zM358 82h1v8h-1zM359 84h1v10h-1zM360 89h1v16h-1zM361 98h1v10h-1zM362 100h1v12h-1zM363 106h1v11h-1zM364 106h1v7h-1zM365 107h1v10h-1zM366 114h1v3h-1zM367 117h1v3h-1zM368 114h1v11h-1zM369 118h1v6h-1zM370 106h1v12h-1zM371 97h1v10h-1zM372 85h1v12h-1zM373 81h1v7h-1zM374 81h1v11h-1zM375 87h1v9h-1zM376 96h1v5h-1zM377 99h1v8h-1zM378 106h1v6h-1zM379 100h1v10h-1zM380 92h1v10h-1zM381 86h1v13h-1zM382 94h1v9h-1zM383 78h1v25h-1zM384 70h1v35h-1zM385 104h1v17h-1zM386 119h1v17h-1zM387 134h1v14h-1zM388 142h1v14h-1zM389 154h1v6h-1zM390 160h1v1h-1zM391 158h1v5h-1zM392 159h1v4h-1zM393 162h1v9h-1zM394 171h1v8h-1zM395 175h1v11h-1zM396 182h1v1h-1zM397 181h1v6h-1zM398 179h1v18h-1zM399 193h1v3h-1zM400 191h1v8h-1zM401 187h1v4h-1zM402 184h1v10h-1zM403 183h1v12h-1zM404 194h1v7h-1zM405 194h1v8h-1zM406 188h1v7h-1zM407 181h1v10h-1zM408 178h1v9h-1zM409 179h1v7h-1zM410 186h1v7h-1zM411 193h1v27h-1zM412 220h1v2h-1zM413 218h1v9h-1zM414 221h1v6h-1zM415 217h1v8h-1zM416 223h1v16h-1zM417 238h1v2h-1zM418 240h1v4h-1zM419 238h1v6h-1zM420 234h1v8h-1zM421 228h1v9h-1zM422 234h1v3h-1zM423 237h1v3h-1zM424 240h1v3h-1zM425 234h1v11h-1zM426 234h1v5h-1zM427 206h1v28h-1zM428 197h1v9h-1zM429 195h1v5h-1zM430 189h1v6h-1zM431 186h1v9h-1zM432 193h1v9h-1zM433 202h1v4h-1zM434 206h1v4h-1zM435 209h1v6h-1zM436 211h1v9h-1zM437 215h1v2h-1zM438 213h1v7h-1zM439 212h1v6h-1zM440 204h1v11h-1zM441 203h1v5h-1zM442 206h1v14h-1zM443 206h1v12h-1zM444 212h1v7h-1zM445 211h1v3h-1zM446 200h1v13h-1zM447 196h1v8h-1zM448 193h1v9h-1zM449 191h1v7h-1zM450 191h1v2h-1zM451 190h1v4h-1zM452 184h1v21h-1zM453 201h1v5h-1zM454 197h1v9h-1zM455 189h1v8h-1zM456 184h1v10h-1zM457 184h1v7h-1zM458 190h1v4h-1zM459 194h1v3h-1zM460 194h1v5h-1zM461 189h1v10h-1zM462 183h1v16h-1zM463 182h1v6h-1zM464 182h1v7h-1zM465 179h1v6h-1zM466 171h1v8h-1zM467 170h1v16h-1zM468 178h1v5h-1zM469 183h1v6h-1zM470 189h1v4h-1zM471 187h1v13h-1zM472 196h1v8h-1zM473 200h1v8h-1zM474 200h1v6h-1zM475 182h1v18h-1zM476 170h1v12h-1zM477 166h1v7h-1zM478 161h1v8h-1zM479 140h1v26h-1zM480 118h1v22h-1zM481 115h1v5h-1zM482 114h1v4h-1zM483 115h1v3h-1zM484 117h1v11h-1zM485 116h1v10h-1zM486 114h1v8h-1zM487 112h1v6h-1zM488 112h1v5h-1zM489 106h1v8h-1zM490 99h1v7h-1zM491 91h1v9h-1zM492 94h1v2h-1zM493 82h1v12h-1zM494 71h1v11h-1zM495 66h1v8h-1zM496 72h1v1h-1zM497 69h1v4h-1zM498 49h1v20h-1zM499 38h1v12h-1zM500 37h1v13h-1zM501 44h1v3h-1zM502 41h1v7h-1zM503 40h1v8h-1zM504 36h1v5h-1zM505 30h1v10h-1zM506 36h1v10h-1zM507 32h1v11h-1zM508 21h1v11h-1zM509 17h1v15h-1zM510 20h1v9h-1zM511 21h1v8h-1zM512 24h1v13h-1zM513 26h1v13h-1zM514 18h1v9h-1zM515 17h1v4h-1zM516 17h1v17h-1zM517 26h1v13h-1zM518 38h1v12h-1zM519 49h1v10h-1zM520 45h1v9h-1zM521 46h1v22h-1zM522 67h1v14h-1zM523 79h1v6h-1zM524 75h1v9h-1zM525 82h1v1h-1zM526 83h1v2h-1zM527 85h1v10h-1zM528 92h1v9h-1zM529 86h1v17h-1zM530 95h1v8h-1zM531 91h1v8h-1zM532 86h1v6h-1zM533 84h1v3h-1zM534 81h1v7h-1zM535 83h1v4h-1zM536 86h1v9h-1zM537 91h1v8h-1zM538 81h1v13h-1zM539 76h1v8h-1zM540 70h1v9h-1zM541 70h1v5h-1zM542 75h1v12h-1zM543 72h1v15h-1zM544 71h1v6h-1zM545 65h1v6h-1zM546 59h1v10h-1zM547 64h1v1h-1zM548 64h1v3h-1zM549 64h1v17h-1zM550 63h1v11h-1zM551 58h1v9h-1zM552 59h1v13h-1zM553 71h1v9h-1zM554 78h1v19h-1zM555 82h1v19h-1zM556 98h1v20h-1zM557 113h1v10h-1zM558 114h1v9h-1zM559 101h1v14h-1zM560 96h1v5h-1zM561 90h1v6h-1zM562 84h1v12h-1zM563 81h1v3h-1zM564 83h1v4h-1zM565 84h1v6h-1zM566 82h1v9h-1zM567 78h1v8h-1zM568 76h1v11h-1zM569 74h1v4h-1zM570 73h1v5h-1zM571 76h1v7h-1zM572 76h1v12h-1zM573 51h1v27h-1zM574 48h1v6h-1zM575 48h1v5h-1zM576 48h1v13h-1zM577 55h1v14h-1zM578 58h1v14h-1zM579 53h1v7h-1zM580 53h1v15h-1zM581 54h1v11h-1zM582 45h1v11h-1zM583 42h1v9h-1zM584 30h1v14h-1zM585 25h1v13h-1zM586 23h1v3h-1zM587 22h1v8h-1zM588 29h1v20h-1zM589 47h1v19h-1zM590 60h1v13h-1zM591 59h1v10h-1zM592 57h1v2h-1zM593 50h1v8h-1zM594 54h1v2h-1zM595 47h1v11h-1zM596 58h1v40h-1zM597 95h1v9h-1zM598 103h1v9h-1zM599 111h1v10h-1zM600 121h1v9h-1zM601 104h1v27h-1zM602 104h1v5h-1zM603 105h1v5h-1zM604 99h1v21h-1zM605 108h1v4h-1zM606 102h1v8h-1zM607 100h1v6h-1zM608 92h1v16h-1zM609 92h1v13h-1zM610 102h1v19h-1zM611 120h1v11h-1zM612 123h1v6h-1zM613 122h1v24h-1zM614 144h1v15h-1zM615 156h1v11h-1zM616 163h1v3h-1zM617 159h1v4h-1zM618 156h1v3h-1zM619 158h1v4h-1zM620 162h1v4h-1zM621 160h1v11h-1zM622 159h1v8h-1zM623 159h1v12h-1zM624 163h1v14h-1zM625 165h1v13h-1zM626 159h1v11h-1zM627 154h1v7h-1zM628 152h1v4h-1zM629 146h1v7h-1zM630 145h1v11h-1zM631 149h1v9h-1zM632 156h1v5h-1zM633 142h1v15h-1zM634 132h1v11h-1zM635 136h1v21h-1zM636 154h1v9h-1zM637 141h1v13h-1zM638 128h1v13h-1zM639 128h1v12h-1zM640 140h1v9h-1zM641 149h1v9h-1zM642 158h1v6h-1zM643 150h1v11h-1zM644 145h1v11h-1zM645 145h1v1h-1zM646 144h1v2h-1zM647 145h1v2h-1zM648 144h1v8h-1zM649 150h1v7h-1zM650 154h1v10h-1zM651 161h1v4h-1zM652 161h1v5h-1zM653 160h1v6h-1zM654 148h1v24h-1zM655 169h1v9h-1zM656 174h1v5h-1zM657 168h1v11h-1zM658 160h1v15h-1zM659 166h1v1h-1zM660 164h1v2h-1zM661 157h1v9h-1zM662 158h1v10h-1zM663 156h1v3h-1zM664 157h1v8h-1zM665 163h1v9h-1zM666 169h1v11h-1zM667 177h1v10h-1zM668 185h1v5h-1zM669 190h1v2h-1zM670 189h1v7h-1zM671 192h1v10h-1zM672 191h1v10h-1zM673 187h1v4h-1zM674 182h1v6h-1zM675 181h1v6h-1zM676 179h1v2h-1zM677 176h1v6h-1zM678 176h1v1h-1zM679 172h1v9h-1zM680 176h1v9h-1zM681 177h1v5h-1zM682 167h1v11h-1zM683 175h1v8h-1zM684 152h1v28h-1zM685 150h1v7h-1zM686 149h1v2h-1zM687 148h1v9h-1zM688 140h1v18h-1zM689 140h1v8h-1zM690 138h1v3h-1zM691 136h1v11h-1zM692 138h1v5h-1zM693 133h1v8h-1zM694 141h1v12h-1zM695 153h1v8h-1zM696 161h1v7h-1zM697 158h1v10h-1zM698 161h1v32h-1zM699 173h1v14h-1zM700 173h1v1h-1zM701 172h1v2h-1zM702 171h1v4h-1zM703 171h1v8h-1zM704 174h1v4h-1zM705 176h1v12h-1zM706 184h1v23h-1zM707 195h1v20h-1zM708 181h1v16h-1zM709 176h1v13h-1zM710 185h1v2h-1zM711 186h1v11h-1zM712 193h1v21h-1zM713 210h1v10h-1zM714 209h1v11h-1zM715 204h1v7h-1zM716 198h1v7h-1zM717 196h1v8h-1zM718 196h1v2h-1zM719 196h1v3h-1zM720 197h1v7h-1zM721 196h1v11h-1zM722 198h1v13h-1zM723 207h1v1h-1zM724 207h1v1h-1zM725 205h1v9h-1zM726 207h1v15h-1zM727 222h1v12h-1zM728 233h1v2h-1zM729 224h1v12h-1zM730 226h1v3h-1zM731 227h1v19h-1zM732 245h1v6h-1zM733 248h1v8h-1zM734 247h1v6h-1zM735 250h1v2h-1zM736 240h1v10h-1zM737 247h1v4h-1zM738 251h1v5h-1zM739 256h1v11h-1zM740 246h1v15h-1zM741 244h1v9h-1zM742 253h1v9h-1zM743 256h1v21h-1zM744 250h1v18h-1zM745 244h1v13h-1zM746 244h1v5h-1zM747 248h1v24h-1zM748 270h1v17h-1zM749 281h1v12h-1zM750 293h1v6h-1zM751 296h1v11h-1zM752 289h1v11h-1zM753 285h1v14h-1zM754 291h1v9h-1zM755 299h1v10h-1zM756 302h1v10h-1zM757 294h1v13h-1zM758 288h1v11h-1zM759 283h1v9h-1zM760 280h1v8h-1zM761 285h1v4h-1zM762 287h1v8h-1zM763 275h1v13h-1zM764 267h1v8h-1zM765 266h1v4h-1zM766 269h1v1h-1zM767 270h1v13h-1zM768 279h1v16h-1zM769 288h1v5h-1zM770 292h1v2h-1zM771 288h1v10h-1zM772 290h1v8h-1zM773 297h1v10h-1zM774 302h1v14h-1zM775 310h1v7h-1zM776 309h1v6h-1zM777 304h1v8h-1zM778 305h1v10h-1zM779 308h1v7h-1zM780 312h1v5h-1zM781 309h1v10h-1zM782 317h1v7h-1zM783 320h1v3h-1zM784 310h1v14h-1zM785 305h1v7h-1zM786 301h1v8h-1zM787 307h1v1h-1zM788 301h1v12h-1zM789 305h1v14h-1zM790 309h1v7h-1zM791 301h1v11h-1zM792 290h1v12h-1zM793 286h1v5h-1zM794 285h1v3h-1zM795 279h1v6h-1zM796 269h1v15h-1zM797 267h1v9h-1zM798 274h1v19h-1zM799 291h1v21h-1zM800 301h1v7h-1zM801 297h1v4h-1zM802 299h1v7h-1zM803 304h1v16h-1zM804 318h1v15h-1zM805 333h1v12h-1zM806 342h1v11h-1zM807 352h1v8h-1zM808 354h1v8h-1zM809 345h1v12h-1zM810 338h1v9h-1zM811 338h1v12h-1zM812 349h1v12h-1zM813 351h1v8h-1zM814 344h1v9h-1zM815 347h1v9h-1zM816 352h1v4h-1zM817 345h1v13h-1zM818 342h1v11h-1zM819 347h1v16h-1zM820 357h1v5h-1zM821 347h1v13h-1zM822 340h1v11h-1zM823 338h1v8h-1zM824 340h1v4h-1zM825 333h1v8h-1zM826 322h1v12h-1zM827 320h1v10h-1zM828 317h1v12h-1zM829 311h1v12h-1zM830 311h1v2h-1zM831 309h1v8h-1zM832 309h1v8h-1zM833 316h1v13h-1zM834 329h1v11h-1zM835 339h1v11h-1zM836 348h1v7h-1zM837 346h1v8h-1zM838 338h1v9h-1zM839 337h1v3h-1zM840 336h1v1h-1zM841 334h1v2h-1zM842 329h1v8h-1zM843 321h1v11h-1zM844 314h1v7h-1zM845 313h1v10h-1zM846 319h1v7h-1zM847 310h1v9h-1zM848 293h1v17h-1zM849 292h1v13h-1zM850 304h1v8h-1zM851 304h1v14h-1zM852 313h1v7h-1zM853 310h1v8h-1zM854 306h1v8h-1zM855 281h1v25h-1zM856 270h1v12h-1zM857 268h1v4h-1zM858 257h1v15h-1zM859 255h1v7h-1zM860 252h1v3h-1zM861 251h1v9h-1zM862 259h1v14h-1zM863 260h1v15h-1zM864 229h1v31h-1zM865 228h1v9h-1zM866 231h1v9h-1zM867 224h1v16h-1zM868 220h1v7h-1zM869 221h1v10h-1zM870 222h1v13h-1zM871 223h1v8h-1zM872 229h1v10h-1zM873 238h1v17h-1zM874 250h1v15h-1zM875 258h1v14h-1zM876 266h1v5h-1zM877 267h1v9h-1zM878 270h1v5h-1zM879 262h1v11h-1zM880 268h1v10h-1zM881 272h1v10h-1zM882 268h1v10h-1zM883 264h1v6h-1zM884 267h1v2h-1zM885 268h1v10h-1zM886 275h1v7h-1zM887 281h1v18h-1zM888 290h1v9h-1zM889 293h1v6h-1zM890 281h1v14h-1zM891 276h1v12h-1zM892 269h1v10h-1zM893 264h1v6h-1zM894 264h1v5h-1zM895 264h1v3h-1zM896 266h1v1h-1zM897 267h1v1h-1zM898 268h1v2h-1zM899 262h1v9h-1zM900 262h1v14h-1zM901 272h1v11h-1zM902 281h1v7h-1zM903 268h1v15h-1zM904 263h1v6h-1zM905 258h1v5h-1zM906 253h1v8h-1zM907 252h1v7h-1zM908 218h1v34h-1zM909 189h1v30h-1zM910 188h1v9h-1zM911 197h1v4h-1zM912 198h1v7h-1zM913 200h1v10h-1zM914 208h1v2h-1zM915 206h1v10h-1zM916 211h1v10h-1zM917 205h1v13h-1zM918 197h1v8h-1zM919 192h1v9h-1zM920 192h1v5h-1zM921 193h1v1h-1zM922 193h1v8h-1zM923 197h1v2h-1zM924 199h1v13h-1zM925 212h1v5h-1zM926 216h1v8h-1zM927 222h1v16h-1zM928 236h1v15h-1zM929 227h1v13h-1zM930 225h1v11h-1zM931 235h1v11h-1zM932 243h1v9h-1zM933 250h1v1h-1zM934 247h1v3h-1zM935 245h1v2h-1zM936 226h1v19h-1zM937 218h1v10h-1zM938 218h1v7h-1zM939 218h1v9h-1zM940 225h1v5h-1zM941 226h1v13h-1zM942 232h1v9h-1zM943 240h1v4h-1zM944 243h1v4h-1zM945 240h1v8h-1zM946 238h1v19h-1zM947 253h1v13h-1zM948 264h1v6h-1zM949 269h1v2h-1zM950 265h1v7h-1zM951 258h1v12h-1zM952 249h1v13h-1zM953 238h1v18h-1zM954 245h1v12h-1zM955 257h1v7h-1zM956 244h1v14h-1zM957 236h1v9h-1zM958 225h1v12h-1zM959 214h1v13h-1zM960 216h1v13h-1zM961 219h1v15h-1zM962 212h1v11h-1zM963 209h1v7h-1zM964 211h1v1h-1zM965 210h1v2h-1zM966 211h1v11h-1zM967 204h1v20h-1zM968 190h1v15h-1zM969 194h1v13h-1zM970 204h1v8h-1zM971 211h1v8h-1zM972 209h1v6h-1zM973 203h1v7h-1zM974 202h1v13h-1zM975 212h1v32h-1zM976 240h1v15h-1zM977 250h1v10h-1zM978 245h1v8h-1zM979 245h1v6h-1zM980 251h1v19h-1zM981 270h1v4h-1zM982 264h1v12h-1zM983 256h1v12h-1zM984 265h1v9h-1zM985 262h1v8h-1z"/>
<path d="M108 198h2v4h-2zM109 201h2v19h-2zM110 211h2v10h-2zM111 202h2v10h-2zM112 196h2v7h-2zM113 198h2v8h-2zM114 204h2v19h-2zM115 220h2v19h-2zM116 218h2v17h-2zM117 219h2v14h-2zM118 230h2v15h-2zM119 236h2v7h-2zM120 226h2v18h-2zM121 215h2v16h-2zM122 206h2v11h-2zM123 205h2v10h-2zM124 206h2v9h-2zM125 208h2v6h-2zM126 202h2v10h-2zM127 200h2v10h-2zM128 198h2v14h-2zM129 210h2v18h-2zM130 225h2v12h-2zM131 214h2v15h-2zM132 210h2v11h-2zM133 210h2v15h-2zM134 223h2v12h-2zM135 229h2v10h-2zM136 227h2v7h-2zM137 224h2v6h-2zM138 226h2v4h-2zM139 221h2v8h-2zM140 202h2v20h-2zM141 201h2v7h-2zM142 201h2v7h-2zM143 174h2v29h-2zM144 172h2v4h-2zM145 170h2v3h-2zM146 171h2v2h-2zM147 171h2v26h-2zM148 191h2v6h-2zM149 183h2v13h-2zM150 184h2v3h-2zM151 183h2v6h-2zM152 182h2v6h-2zM153 185h2v8h-2zM154 191h2v12h-2zM155 195h2v9h-2zM156 185h2v13h-2zM157 190h2v2h-2zM158 184h2v7h-2zM159 188h2v4h-2zM160 191h2v5h-2zM161 193h2v7h-2zM162 196h2v2h-2zM163 191h2v17h-2zM164 194h2v8h-2zM165 201h2v5h-2zM166 203h2v6h-2zM167 202h2v16h-2zM168 215h2v15h-2zM169 210h2v14h-2zM170 207h2v10h-2zM171 205h2v7h-2zM172 206h2v28h-2zM173 233h2v24h-2zM174 251h2v4h-2zM175 235h2v19h-2zM176 233h2v7h-2zM177 236h2v2h-2zM178 233h2v14h-2zM179 245h2v45h-2zM180 288h2v9h-2zM181 294h2v6h-2zM182 296h2v3h-2zM183 259h2v38h-2zM184 253h2v11h-2zM185 240h2v18h-2zM186 247h2v7h-2zM187 250h2v3h-2zM188 244h2v9h-2zM189 244h2v6h-2zM190 235h2v13h-2zM191 236h2v7h-2zM192 236h2v10h-2zM193 230h2v17h-2zM194 225h2v9h-2zM195 225h2v5h-2zM196 227h2v6h-2zM197 222h2v12h-2zM198 209h2v24h-2zM199 212h2v12h-2zM200 210h2v10h-2zM201 210h2v2h-2zM202 210h2v8h-2zM203 215h2v16h-2zM204 203h2v21h-2zM205 200h2v6h-2zM206 195h2v9h-2zM207 202h2v2h-2zM208 197h2v7h-2zM209 189h2v9h-2zM210 176h2v16h-2zM211 176h2v8h-2zM212 172h2v5h-2zM213 174h2v6h-2zM214 177h2v9h-2zM215 179h2v4h-2zM216 172h2v8h-2zM217 174h2v9h-2zM218 175h2v24h-2zM219 195h2v5h-2zM220 199h2v3h-2zM221 198h2v11h-2zM222 204h2v15h-2zM223 190h2v21h-2zM224 190h2v3h-2zM225 191h2v7h-2zM226 196h2v49h-2zM227 242h2v18h-2zM228 255h2v5h-2zM229 252h2v6h-2zM230 242h2v15h-2zM231 234h2v11h-2zM232 231h2v11h-2zM233 234h2v10h-2zM234 230h2v5h-2zM235 229h2v5h-2zM236 232h2v3h-2zM237 226h2v8h-2zM238 210h2v17h-2zM239 200h2v11h-2zM240 190h2v14h-2zM241 184h2v13h-2zM242 175h2v19h-2zM243 171h2v12h-2zM244 166h2v7h-2zM245 162h2v8h-2zM246 162h2v3h-2zM247 163h2v2h-2zM248 162h2v5h-2zM249 162h2v10h-2zM250 166h2v11h-2zM251 172h2v4h-2zM252 169h2v11h-2zM253 171h2v6h-2zM254 172h2v2h-2zM255 171h2v3h-2zM256 168h2v10h-2zM257 171h2v13h-2zM258 180h2v5h-2zM259 177h2v8h-2zM260 171h2v14h-2zM261 164h2v12h-2zM262 154h2v17h-2zM263 150h2v9h-2zM264 139h2v14h-2zM265 128h2v12h-2zM266 117h2v14h-2zM267 120h2v5h-2zM268 119h2v3h-2zM269 117h2v4h-2zM270 118h2v2h-2zM271 118h2v11h-2zM272 122h2v4h-2zM273 122h2v8h-2zM274 123h2v6h-2zM275 116h2v14h-2zM276 112h2v11h-2zM277 110h2v5h-2zM278 110h2v15h-2zM279 120h2v12h-2zM280 130h2v6h-2zM281 132h2v13h-2zM282 139h2v7h-2zM283 143h2v5h-2zM284 147h2v6h-2zM285 152h2v6h-2zM286 154h2v9h-2zM287 155h2v7h-2zM288 159h2v2h-2zM289 155h2v6h-2zM290 158h2v18h-2zM291 175h2v16h-2zM292 180h2v11h-2zM293 181h2v5h-2zM294 147h2v37h-2zM295 137h2v19h-2zM296 125h2v15h-2zM297 117h2v10h-2zM298 116h2v2h-2zM299 113h2v5h-2zM300 113h2v8h-2zM301 119h2v11h-2zM302 129h2v27h-2zM303 155h2v26h-2zM304 180h2v17h-2zM305 196h2v13h-2zM306 202h2v8h-2zM307 190h2v19h-2zM308 191h2v6h-2zM309 188h2v11h-2zM310 193h2v12h-2zM311 198h2v11h-2zM312 202h2v7h-2zM313 192h2v16h-2zM314 193h2v8h-2zM315 194h2v4h-2zM316 194h2v6h-2zM317 198h2v3h-2zM318 200h2v3h-2zM319 201h2v5h-2zM320 200h2v6h-2zM321 198h2v8h-2zM322 192h2v11h-2zM323 190h2v11h-2zM324 190h2v6h-2zM325 189h2v3h-2zM326 187h2v3h-2zM327 184h2v6h-2zM328 186h2v7h-2zM329 192h2v7h-2zM330 198h2v5h-2zM331 198h2v7h-2zM332 204h2v4h-2zM333 207h2v4h-2zM334 210h2v2h-2zM335 204h2v11h-2zM336 206h2v10h-2zM337 200h2v16h-2zM338 200h2v16h-2zM339 188h2v18h-2zM340 179h2v13h-2zM341 179h2v4h-2zM342 178h2v3h-2zM343 177h2v2h-2zM344 174h2v8h-2zM345 175h2v17h-2zM346 184h2v9h-2zM347 187h2v9h-2zM348 183h2v13h-2zM349 174h2v11h-2zM350 167h2v8h-2zM351 160h2v12h-2zM352 153h2v13h-2zM353 148h2v12h-2zM354 147h2v3h-2zM355 147h2v2h-2zM356 146h2v12h-2zM357 145h2v10h-2zM358 152h2v10h-2zM359 156h2v16h-2zM360 169h2v12h-2zM361 172h2v10h-2zM362 175h2v9h-2zM363 177h2v7h-2zM364 182h2v3h-2zM365 182h2v5h-2zM366 184h2v16h-2zM367 187h2v7h-2zM368 181h2v16h-2zM369 195h2v6h-2zM370 200h2v31h-2zM371 224h2v13h-2zM372 206h2v20h-2zM373 201h2v13h-2zM374 212h2v17h-2zM375 224h2v17h-2zM376 234h2v11h-2zM377 241h2v6h-2zM378 231h2v16h-2zM379 220h2v15h-2zM380 223h2v12h-2zM381 231h2v8h-2zM382 208h2v24h-2zM383 203h2v24h-2zM384 224h2v30h-2zM385 252h2v18h-2zM386 269h2v11h-2zM387 276h2v18h-2zM388 291h2v12h-2zM389 301h2v12h-2zM390 299h2v8h-2zM391 297h2v10h-2zM392 295h2v15h-2zM393 304h2v13h-2zM394 316h2v9h-2zM395 323h2v9h-2zM396 327h2v5h-2zM397 326h2v14h-2zM398 335h2v5h-2zM399 320h2v21h-2zM400 314h2v7h-2zM401 306h2v9h-2zM402 305h2v10h-2zM403 313h2v10h-2zM404 322h2v2h-2zM405 322h2v2h-2zM406 303h2v21h-2zM407 300h2v4h-2zM408 298h2v3h-2zM409 299h2v14h-2zM410 311h2v25h-2zM411 334h2v7h-2zM412 337h2v13h-2zM413 339h2v8h-2zM414 338h2v7h-2zM415 339h2v17h-2zM416 352h2v7h-2zM417 356h2v4h-2zM418 359h2v3h-2zM419 352h2v9h-2zM420 347h2v10h-2zM421 348h2v5h-2zM422 347h2v11h-2zM423 348h2v15h-2zM424 355h2v10h-2zM425 356h2v9h-2zM426 338h2v22h-2zM427 328h2v13h-2zM428 326h2v6h-2zM429 307h2v21h-2zM430 301h2v10h-2zM431 297h2v13h-2zM432 298h2v14h-2zM433 310h2v11h-2zM434 306h2v10h-2zM435 301h2v10h-2zM436 305h2v2h-2zM437 305h2v11h-2zM438 313h2v17h-2zM439 323h2v10h-2zM440 318h2v8h-2zM441 303h2v18h-2zM442 305h2v26h-2zM443 327h2v7h-2zM444 323h2v11h-2zM445 329h2v4h-2zM446 305h2v29h-2zM447 304h2v16h-2zM448 315h2v14h-2zM449 306h2v10h-2zM450 294h2v13h-2zM451 298h2v10h-2zM452 299h2v17h-2zM453 307h2v10h-2zM454 308h2v9h-2zM455 293h2v19h-2zM456 293h2v5h-2zM457 294h2v6h-2zM458 296h2v11h-2zM459 301h2v8h-2zM460 296h2v8h-2zM461 293h2v5h-2zM462 290h2v9h-2zM463 294h2v2h-2zM464 287h2v8h-2zM465 281h2v7h-2zM466 281h2v8h-2zM467 285h2v8h-2zM468 290h2v12h-2zM469 293h2v10h-2zM470 280h2v15h-2zM471 274h2v12h-2zM472 278h2v8h-2zM473 280h2v13h-2zM474 287h2v13h-2zM475 279h2v21h-2zM476 256h2v27h-2zM477 253h2v11h-2zM478 233h2v24h-2zM479 209h2v25h-2zM480 201h2v9h-2zM481 198h2v10h-2zM482 199h2v10h-2zM483 208h2v12h-2zM484 216h2v13h-2zM485 216h2v13h-2zM486 205h2v15h-2zM487 201h2v11h-2zM488 202h2v2h-2zM489 187h2v16h-2zM490 183h2v9h-2zM491 177h2v14h-2zM492 168h2v12h-2zM493 151h2v19h-2zM494 153h2v11h-2zM495 153h2v2h-2zM496 154h2v2h-2zM497 137h2v19h-2zM498 119h2v23h-2zM499 119h2v10h-2zM500 124h2v11h-2zM501 131h2v12h-2zM502 124h2v11h-2zM503 120h2v12h-2zM504 121h2v10h-2zM505 115h2v12h-2zM506 113h2v7h-2zM507 107h2v7h-2zM508 101h2v7h-2zM509 100h2v9h-2zM510 100h2v13h-2zM511 111h2v6h-2zM512 115h2v8h-2zM513 110h2v10h-2zM514 102h2v9h-2zM515 100h2v8h-2zM516 107h2v11h-2zM517 117h2v12h-2zM518 125h2v17h-2zM519 135h2v9h-2zM520 143h2v6h-2zM521 147h2v7h-2zM522 149h2v9h-2zM523 156h2v5h-2zM524 157h2v13h-2zM525 163h2v3h-2zM526 165h2v4h-2zM527 168h2v4h-2zM528 169h2v10h-2zM529 170h2v10h-2zM530 162h2v16h-2zM531 164h2v10h-2zM532 165h2v5h-2zM533 165h2v5h-2zM534 165h2v4h-2zM535 167h2v2h-2zM536 160h2v12h-2zM537 160h2v7h-2zM538 151h2v17h-2zM539 149h2v7h-2zM540 148h2v2h-2zM541 147h2v11h-2zM542 147h2v8h-2zM543 151h2v8h-2zM544 148h2v9h-2zM545 148h2v5h-2zM546 144h2v5h-2zM547 137h2v9h-2zM548 135h2v14h-2zM549 135h2v10h-2zM550 142h2v8h-2zM551 149h2v9h-2zM552 152h2v12h-2zM553 157h2v4h-2zM554 159h2v21h-2zM555 179h2v16h-2zM556 189h2v11h-2zM557 195h2v12h-2zM558 193h2v11h-2zM559 181h2v14h-2zM560 174h2v11h-2zM561 165h2v11h-2zM562 162h2v9h-2zM563 161h2v9h-2zM564 161h2v4h-2zM565 155h2v8h-2zM566 158h2v6h-2zM567 155h2v4h-2zM568 157h2v4h-2zM569 160h2v4h-2zM570 163h2v4h-2zM571 161h2v9h-2zM572 149h2v14h-2zM573 136h2v14h-2zM574 134h2v3h-2zM575 133h2v2h-2zM576 133h2v5h-2zM577 137h2v11h-2zM578 147h2v13h-2zM579 151h2v9h-2zM580 142h2v11h-2zM581 134h2v10h-2zM582 126h2v12h-2zM583 118h2v9h-2zM584 112h2v9h-2zM585 109h2v6h-2zM586 106h2v8h-2zM587 113h2v17h-2zM588 127h2v18h-2zM589 143h2v14h-2zM590 150h2v18h-2zM591 153h2v6h-2zM592 147h2v7h-2zM593 144h2v5h-2zM594 140h2v5h-2zM595 142h2v37h-2zM596 176h2v14h-2zM597 188h2v16h-2zM598 199h2v16h-2zM599 210h2v11h-2zM600 200h2v21h-2zM601 190h2v11h-2zM602 181h2v10h-2zM603 178h2v11h-2zM604 183h2v5h-2zM605 183h2v13h-2zM606 181h2v16h-2zM607 173h2v15h-2zM608 166h2v8h-2zM609 170h2v16h-2zM610 178h2v13h-2zM611 189h2v10h-2zM612 195h2v24h-2zM613 218h2v10h-2zM614 225h2v11h-2zM615 232h2v3h-2zM616 229h2v5h-2zM617 228h2v3h-2zM618 229h2v9h-2zM619 237h2v5h-2zM620 234h2v7h-2zM621 228h2v11h-2zM622 227h2v11h-2zM623 234h2v9h-2zM624 240h2v9h-2zM625 231h2v15h-2zM626 227h2v5h-2zM627 221h2v8h-2zM628 216h2v11h-2zM629 215h2v14h-2zM630 219h2v5h-2zM631 222h2v6h-2zM632 223h2v8h-2zM633 205h2v19h-2zM634 197h2v9h-2zM635 196h2v10h-2zM636 198h2v14h-2zM637 210h2v15h-2zM638 224h2v12h-2zM639 235h2v14h-2zM640 246h2v8h-2zM641 249h2v12h-2zM642 259h2v5h-2zM643 249h2v13h-2zM644 246h2v6h-2zM645 247h2v6h-2zM646 246h2v9h-2zM647 242h2v17h-2zM648 243h2v7h-2zM649 247h2v12h-2zM650 256h2v14h-2zM651 256h2v12h-2zM652 265h2v4h-2zM653 251h2v17h-2zM654 256h2v22h-2zM655 274h2v6h-2zM656 267h2v9h-2zM657 258h2v15h-2zM658 265h2v2h-2zM659 264h2v2h-2zM660 257h2v10h-2zM661 257h2v8h-2zM662 256h2v4h-2zM663 252h2v7h-2zM664 252h2v8h-2zM665 258h2v13h-2zM666 264h2v11h-2zM667 267h2v16h-2zM668 279h2v4h-2zM669 279h2v8h-2zM670 281h2v6h-2zM671 268h2v19h-2zM672 268h2v12h-2zM673 268h2v3h-2zM674 266h2v10h-2zM675 265h2v3h-2zM676 264h2v2h-2zM677 260h2v6h-2zM678 256h2v11h-2zM679 261h2v2h-2zM680 260h2v2h-2zM681 258h2v5h-2zM682 253h2v10h-2zM683 243h2v12h-2zM684 236h2v11h-2zM685 244h2v12h-2zM686 220h2v38h-2zM687 210h2v12h-2zM688 207h2v11h-2zM689 204h2v8h-2zM690 204h2v4h-2zM691 200h2v5h-2zM692 197h2v10h-2zM693 199h2v7h-2zM694 205h2v13h-2zM695 216h2v16h-2zM696 228h2v13h-2zM697 236h2v13h-2zM698 234h2v16h-2zM699 229h2v6h-2zM700 225h2v9h-2zM701 226h2v5h-2zM702 226h2v3h-2zM703 226h2v13h-2zM704 235h2v7h-2zM705 241h2v13h-2zM706 251h2v20h-2zM707 244h2v23h-2zM708 234h2v11h-2zM709 236h2v5h-2zM710 239h2v8h-2zM711 243h2v12h-2zM712 254h2v14h-2zM713 259h2v17h-2zM714 260h2v12h-2zM715 252h2v10h-2zM716 250h2v3h-2zM717 244h2v8h-2zM718 244h2v11h-2zM719 254h2v17h-2zM720 269h2v18h-2zM721 284h2v11h-2zM722 285h2v9h-2zM723 286h2v4h-2zM724 285h2v14h-2zM725 293h2v9h-2zM726 297h2v26h-2zM727 321h2v4h-2zM728 320h2v10h-2zM729 319h2v6h-2zM730 318h2v13h-2zM731 328h2v13h-2zM732 340h2v9h-2zM733 346h2v4h-2zM734 341h2v8h-2zM735 342h2v14h-2zM736 353h2v12h-2zM737 363h2v6h-2zM738 366h2v11h-2zM739 370h2v9h-2zM740 363h2v13h-2zM741 357h2v8h-2zM742 359h2v12h-2zM743 362h2v11h-2zM744 355h2v13h-2zM745 356h2v12h-2zM746 357h2v14h-2zM747 369h2v17h-2zM748 383h2v27h-2zM749 405h2v11h-2zM750 412h2v9h-2zM751 409h2v18h-2zM752 402h2v16h-2zM753 405h2v11h-2zM754 413h2v16h-2zM755 424h2v16h-2zM756 432h2v9h-2zM757 424h2v9h-2zM758 416h2v9h-2zM759 407h2v15h-2zM760 407h2v9h-2zM761 413h2v4h-2zM762 407h2v7h-2zM763 403h2v18h-2zM764 418h2v15h-2zM765 431h2v9h-2zM766 435h2v7h-2zM767 436h2v15h-2zM768 447h2v13h-2zM769 455h2v17h-2zM770 458h2v7h-2zM771 453h2v6h-2zM772 450h2v4h-2zM773 451h2v12h-2zM774 462h2v11h-2zM775 461h2v13h-2zM776 453h2v13h-2zM777 456h2v4h-2zM778 452h2v11h-2zM779 455h2v11h-2zM780 465h2v5h-2zM781 463h2v15h-2zM782 473h2v8h-2zM783 474h2v6h-2zM784 469h2v6h-2zM785 463h2v9h-2zM786 461h2v4h-2zM787 453h2v12h-2zM788 442h2v19h-2zM789 451h2v8h-2zM790 435h2v22h-2zM791 445h2v4h-2zM792 431h2v16h-2zM793 426h2v8h-2zM794 422h2v6h-2zM795 412h2v12h-2zM796 404h2v10h-2zM797 407h2v15h-2zM798 421h2v16h-2zM799 434h2v14h-2zM800 435h2v10h-2zM801 433h2v9h-2zM802 438h2v8h-2zM803 445h2v16h-2zM804 460h2v25h-2zM805 483h2v21h-2zM806 502h2v10h-2zM807 511h2v9h-2zM808 507h2v14h-2zM809 502h2v6h-2zM810 491h2v15h-2zM811 481h2v17h-2zM812 477h2v11h-2zM813 482h2v10h-2zM814 489h2v9h-2zM815 490h2v6h-2zM816 486h2v8h-2zM817 484h2v5h-2zM818 483h2v7h-2zM819 489h2v11h-2zM820 493h2v8h-2zM821 487h2v7h-2zM822 483h2v7h-2zM823 481h2v5h-2zM824 478h2v4h-2zM825 463h2v23h-2zM826 462h2v10h-2zM827 451h2v12h-2zM828 441h2v13h-2zM829 435h2v8h-2zM830 433h2v3h-2zM831 432h2v8h-2zM832 436h2v3h-2zM833 436h2v25h-2zM834 457h2v10h-2zM835 466h2v9h-2zM836 468h2v6h-2zM837 460h2v13h-2zM838 456h2v11h-2zM839 458h2v5h-2zM840 455h2v5h-2zM841 450h2v7h-2zM842 448h2v5h-2zM843 446h2v10h-2zM844 454h2v12h-2zM845 463h2v11h-2zM846 464h2v19h-2zM847 479h2v7h-2zM848 466h2v18h-2zM849 465h2v12h-2zM850 468h2v19h-2zM851 480h2v11h-2zM852 487h2v3h-2zM853 487h2v2h-2zM854 472h2v17h-2zM855 462h2v12h-2zM856 462h2v10h-2zM857 460h2v9h-2zM858 456h2v9h-2zM859 450h2v9h-2zM860 444h2v15h-2zM861 452h2v31h-2zM862 470h2v14h-2zM863 444h2v29h-2zM864 426h2v22h-2zM865 426h2v13h-2zM866 426h2v11h-2zM867 430h2v2h-2zM868 431h2v11h-2zM869 439h2v7h-2zM870 433h2v17h-2zM871 436h2v12h-2zM872 446h2v10h-2zM873 453h2v14h-2zM874 464h2v12h-2zM875 474h2v7h-2zM876 480h2v9h-2zM877 483h2v7h-2zM878 478h2v11h-2zM879 477h2v6h-2zM880 477h2v16h-2zM881 485h2v7h-2zM882 476h2v11h-2zM883 477h2v2h-2zM884 476h2v12h-2zM885 479h2v7h-2zM886 480h2v22h-2zM887 498h2v14h-2zM888 502h2v10h-2zM889 497h2v8h-2zM890 491h2v9h-2zM891 485h2v9h-2zM892 476h2v10h-2zM893 473h2v8h-2zM894 472h2v10h-2zM895 474h2v3h-2zM896 475h2v2h-2zM897 469h2v9h-2zM898 470h2v5h-2zM899 470h2v12h-2zM900 480h2v10h-2zM901 489h2v7h-2zM902 461h2v37h-2zM903 452h2v13h-2zM904 448h2v6h-2zM905 443h2v11h-2zM906 443h2v10h-2zM907 408h2v38h-2zM908 377h2v38h-2zM909 377h2v5h-2zM910 377h2v17h-2zM911 380h2v16h-2zM912 392h2v4h-2zM913 387h2v10h-2zM914 388h2v6h-2zM915 393h2v13h-2zM916 396h2v10h-2zM917 380h2v18h-2zM918 379h2v2h-2zM919 375h2v5h-2zM920 375h2v7h-2zM921 375h2v9h-2zM922 377h2v10h-2zM923 381h2v24h-2zM924 404h2v8h-2zM925 408h2v7h-2zM926 414h2v10h-2zM927 422h2v14h-2zM928 420h2v22h-2zM929 419h2v10h-2zM930 417h2v26h-2zM931 434h2v10h-2zM932 432h2v15h-2zM933 442h2v5h-2zM934 440h2v4h-2zM935 417h2v24h-2zM936 409h2v11h-2zM937 410h2v10h-2zM938 409h2v5h-2zM939 411h2v8h-2zM940 415h2v8h-2zM941 420h2v11h-2zM942 427h2v8h-2zM943 432h2v6h-2zM944 437h2v4h-2zM945 440h2v5h-2zM946 444h2v6h-2zM947 441h2v9h-2zM948 441h2v4h-2zM949 438h2v4h-2zM950 432h2v11h-2zM951 426h2v12h-2zM952 418h2v12h-2zM953 419h2v10h-2zM954 428h2v12h-2zM955 418h2v19h-2zM956 413h2v8h-2zM957 406h2v11h-2zM958 388h2v22h-2zM959 392h2v7h-2zM960 396h2v6h-2zM961 386h2v12h-2zM962 384h2v4h-2zM963 383h2v2h-2zM964 382h2v19h-2zM965 399h2v13h-2zM966 391h2v14h-2zM967 380h2v14h-2zM968 382h2v19h-2zM969 397h2v3h-2zM970 399h2v6h-2zM971 403h2v10h-2zM972 407h2v6h-2zM973 405h2v4h-2zM974 404h2v12h-2zM975 414h2v36h-2zM976 448h2v10h-2zM977 444h2v12h-2zM978 445h2v2h-2zM979 443h2v10h-2zM980 450h2v24h-2zM981 466h2v23h-2zM982 488h2v17h-2zM983 500h2v5h-2zM984 493h2v12h-2zM985 488h2v13h-2z"/>
</g>
<g fill="#000" shape-rendering="crispEdges"><rect x="108" y="17" width="1" height="513" fill="#000"/><rect x="986" y="17" width="1" height="513" fill="#000"/><rect x="108" y="17" width="879" height="1" fill="#000"/><rect x="100" y="520" width="896" height="1" fill="#000"/><rect x="100" y="198" width="895" height="1" fill="#000"/><rect x="104" y="507" width="9" height="1" fill="#000"/><rect x="982" y="507" width="9" height="1" fill="#000"/><rect x="104" y="494" width="9" height="1" fill="#000"/><rect x="982" y="494" width="9" height="1" fill="#000"/><rect x="104" y="481" width="9" height="1" fill="#000"/><rect x="982" y="481" width="9" height="1" fill="#000"/><rect x="104" y="468" width="9" height="1" fill="#000"/><rect x="982" y="468" width="9" height="1" fill="#000"/><rect x="100" y="456" width="17" height="1" fill="#000"/><rect x="978" y="456" width="18" height="1" fill="#000"/><rect x="104" y="443" width="9" height="1" fill="#000"/><rect x="982" y="443" width="9" height="1" fill="#000"/><rect x="104" y="430" width="9" height="1" fill="#000"/><rect x="982" y="430" width="9" height="1" fill="#000"/><rect x="104" y="417" width="9" height="1" fill="#000"/><rect x="982" y="417" width="9" height="1" fill="#000"/><rect x="104" y="404" width="9" height="1" fill="#000"/><rect x="982" y="404" width="9" height="1" fill="#000"/><rect x="100" y="391" width="17" height="1" fill="#000"/><rect x="978" y="391" width="18" height="1" fill="#000"/><rect x="104" y="378" width="9" height="1" fill="#000"/><rect x="982" y="378" width="9" height="1" fill="#000"/><rect x="104" y="365" width="9" height="1" fill="#000"/><rect x="982" y="365" width="9" height="1" fill="#000"/><rect x="104" y="352" width="9" height="1" fill="#000"/><rect x="982" y="352" width="9" height="1" fill="#000"/><rect x="104" y="339" width="9" height="1" fill="#000"/><rect x="982" y="339" width="9" height="1" fill="#000"/><rect x="100" y="327" width="17" height="1" fill="#000"/><rect x="978" y="327" width="18" height="1" fill="#000"/><rect x="104" y="314" width="9" height="1" fill="#000"/><rect x="982" y="314" width="9" height="1" fill="#000"/><rect x="104" y="301" width="9" height="1" fill="#000"/><rect x="982" y="301" width="9" height="1" fill="#000"/><rect x="104" y="288" width="9" height="1" fill="#000"/><rect x="982" y="288" width="9" height="1" fill="#000"/><rect x="104" y="275" width="9" height="1" fill="#000"/><rect x="982" y="275" width="9" height="1" fill="#000"/><rect x="100" y="262" width="17" height="1" fill="#000"/><rect x="978" y="262" width="18" height="1" fill="#000"/><rect x="104" y="249" width="9" height="1" fill="#000"/><rect x="982" y="249" width="9" height="1" fill="#000"/><rect x="104" y="236" width="9" height="1" fill="#000"/><rect x="982" y="236" width="9" height="1" fill="#000"/><rect x="104" y="223" width="9" height="1" fill="#000"/><rect x="982" y="223" width="9" height="1" fill="#000"/><rect x="104" y="211" width="9" height="1" fill="#000"/><rect x="982" y="211" width="9" height="1" fill="#000"/><rect x="104" y="185" width="9" height="1" fill="#000"/><rect x="982" y="185" width="9" height="1" fill="#000"/><rect x="104" y="172" width="9" height="1" fill="#000"/><rect x="982" y="172" width="9" height="1" fill="#000"/><rect x="104" y="159" width="9" height="1" fill="#000"/><rect x="982" y="159" width="9" height="1" fill="#000"/><rect x="104" y="146" width="9" height="1" fill="#000"/><rect x="982" y="146" width="9" height="1" fill="#000"/><rect x="100" y="133" width="17" height="1" fill="#000"/><rect x="978" y="133" width="18" height="1" fill="#000"/><rect x="104" y="120" width="9" height="1" fill="#000"/><rect x="982" y="120" width="9" height="1" fill="#000"/><rect x="104" y="107" width="9" height="1" fill="#000"/><rect x="982" y="107" width="9" height="1" fill="#000"/><rect x="104" y="94" width="9" height="1" fill="#000"/><rect x="982" y="94" width="9" height="1" fill="#000"/><rect x="104" y="82" width="9" height="1" fill="#000"/><rect x="982" y="82" width="9" height="1" fill="#000"/><rect x="100" y="69" width="17" height="1" fill="#000"/><rect x="978" y="69" width="18" height="1" fill="#000"/><rect x="104" y="56" width="9" height="1" fill="#000"/><rect x="982" y="56" width="9" height="1" fill="#000"/><rect x="104" y="43" width="9" height="1" fill="#000"/><rect x="982" y="43" width="9" height="1" fill="#000"/><rect x="104" y="30" width="9" height="1" fill="#000"/><rect x="982" y="30" width="9" height="1" fill="#000"/><rect x="130" y="516" width="1" height="9" fill="#000"/><rect x="130" y="17" width="1" height="5" fill="#000"/><rect x="152" y="516" width="1" height="9" fill="#000"/><rect x="152" y="17" width="1" height="5" fill="#000"/><rect x="174" y="516" width="1" height="9" fill="#000"/><rect x="174" y="17" width="1" height="5" fill="#000"/><rect x="196" y="516" width="1" height="9" fill="#000"/><rect x="196" y="17" width="1" height="5" fill="#000"/><rect x="218" y="512" width="1" height="18" fill="#000"/><rect x="218" y="17" width="1" height="9" fill="#000"/><rect x="240" y="516" width="1" height="9" fill="#000"/><rect x="240" y="17" width="1" height="5" fill="#000"/><rect x="262" y="516" width="1" height="9" fill="#000"/><rect x="262" y="17" width="1" height="5" fill="#000"/><rect x="283" y="516" width="1" height="9" fill="#000"/><rect x="283" y="17" width="1" height="5" fill="#000"/><rect x="305" y="516" width="1" height="9" fill="#000"/><rect x="305" y="17" width="1" height="5" fill="#000"/><rect x="327" y="512" width="1" height="18" fill="#000"/><rect x="327" y="17" width="1" height="9" fill="#000"/><rect x="349" y="516" width="1" height="9" fill="#000"/><rect x="349" y="17" width="1" height="5" fill="#000"/><rect x="371" y="516" width="1" height="9" fill="#000"/><rect x="371" y="17" width="1" height="5" fill="#000"/><rect x="393" y="516" width="1" height="9" fill="#000"/><rect x="393" y="17" width="1" height="5" fill="#000"/><rect x="415" y="516" width="1" height="9" fill="#000"/><rect x="415" y="17" width="1" height="5" fill="#000"/><rect x="437" y="512" width="1" height="18" fill="#000"/><rect x="437" y="17" width="1" height="9" fill="#000"/><rect x="459" y="516" width="1" height="9" fill="#000"/><rect x="459" y="17" width="1" height="5" fill="#000"/><rect x="481" y="516" width="1" height="9" fill="#000"/><rect x="481" y="17" width="1" height="5" fill="#000"/><rect x="503" y="516" width="1" height="9" fill="#000"/><rect x="503" y="17" width="1" height="5" fill="#000"/><rect x="525" y="516" width="1" height="9" fill="#000"/><rect x="525" y="17" width="1" height="5" fill="#000"/><rect x="547" y="512" width="1" height="18" fill="#000"/><rect x="547" y="17" width="1" height="9" fill="#000"/><rect x="569" y="516" width="1" height="9" fill="#000"/><rect x="569" y="17" width="1" height="5" fill="#000"/><rect x="591" y="516" width="1" height="9" fill="#000"/><rect x="591" y="17" width="1" height="5" fill="#000"/><rect x="613" y="516" width="1" height="9" fill="#000"/><rect x="613" y="17" width="1" height="5" fill="#000"/><rect x="635" y="516" width="1" height="9" fill="#000"/><rect x="635" y="17" width="1" height="5" fill="#000"/><rect x="657" y="512" width="1" height="18" fill="#000"/><rect x="657" y="17" width="1" height="9" fill="#000"/><rect x="679" y="516" width="1" height="9" fill="#000"/><rect x="679" y="17" width="1" height="5" fill="#000"/><rect x="701" y="516" width="1" height="9" fill="#000"/><rect x="701" y="17" width="1" height="5" fill="#000"/><rect x="723" y="516" width="1" height="9" fill="#000"/><rect x="723" y="17" width="1" height="5" fill="#000"/><rect x="745" y="516" width="1" height="9" fill="#000"/><rect x="745" y="17" width="1" height="5" fill="#000"/><rect x="767" y="512" width="1" height="18" fill="#000"/><rect x="767" y="17" width="1" height="9" fill="#000"/><rect x="789" y="516" width="1" height="9" fill="#000"/><rect x="789" y="17" width="1" height="5" fill="#000"/><rect x="811" y="516" width="1" height="9" fill="#000"/><rect x="811" y="17" width="1" height="5" fill="#000"/><rect x="832" y="516" width="1" height="9" fill="#000"/><rect x="832" y="17" width="1" height="5" fill="#000"/><rect x="854" y="516" width="1" height="9" fill="#000"/><rect x="854" y="17" width="1" height="5" fill="#000"/><rect x="876" y="512" width="1" height="18" fill="#000"/><rect x="876" y="17" width="1" height="9" fill="#000"/><rect x="898" y="516" width="1" height="9" fill="#000"/><rect x="898" y="17" width="1" height="5" fill="#000"/><rect x="920" y="516" width="1" height="9" fill="#000"/><rect x="920" y="17" width="1" height="5" fill="#000"/><rect x="942" y="516" width="1" height="9" fill="#000"/><rect x="942" y="17" width="1" height="5" fill="#000"/><rect x="964" y="516" width="1" height="9" fill="#000"/><rect x="964" y="17" width="1" height="5" fill="#000"/></g>
<g font-family="'Liberation Sans', Arial, sans-serif" font-size="14" fill="#000" text-anchor="middle"><text x="74" y="459.6">-$377</text><text x="1019.7" y="459.6">-$377</text><text x="74" y="395.2">-$283</text><text x="1019.7" y="395.2">-$283</text><text x="74" y="330.7">-$189</text><text x="1019.7" y="330.7">-$189</text><text x="74" y="266.2">-$94</text><text x="1019.7" y="266.2">-$94</text><text x="74" y="201.7">$0</text><text x="1019.7" y="201.7">$0</text><text x="74" y="137.3">$94</text><text x="1019.7" y="137.3">$94</text><text x="74" y="72.8">$189</text><text x="1019.7" y="72.8">$189</text><text x="74" y="524.1">-$472</text><text x="1019.7" y="524.1">-$472</text><text font-size="13.6" transform="translate(107.7,556.5) rotate(-66)" x="0" y="4.9">0</text><text font-size="13.6" transform="translate(217.7,556.5) rotate(-66)" x="0" y="4.9">4962</text><text font-size="13.6" transform="translate(326.7,556.5) rotate(-66)" x="0" y="4.9">9924</text><text font-size="13.6" transform="translate(436.7,556.5) rotate(-66)" x="0" y="4.9">14886</text><text font-size="13.6" transform="translate(546.7,556.5) rotate(-66)" x="0" y="4.9">19849</text><text font-size="13.6" transform="translate(656.7,556.5) rotate(-66)" x="0" y="4.9">24811</text><text font-size="13.6" transform="translate(766.7,556.5) rotate(-66)" x="0" y="4.9">29773</text><text font-size="13.6" transform="translate(875.7,556.5) rotate(-66)" x="0" y="4.9">34735</text><text font-size="13.6" transform="translate(985.7,556.5) rotate(-66)" x="0" y="4.9">39697</text></g>
<text font-family="'Liberation Sans', Arial, sans-serif" font-weight="bold" font-size="19.2" text-anchor="middle" x="545.6" y="604.4">Hands</text>
<text font-family="'Liberation Sans', Arial, sans-serif" font-weight="bold" font-size="21.5" text-anchor="middle" transform="translate(28.8,268.4) rotate(-90) scale(1,1.2)" x="0" y="6.3">$</text>
<text font-family="'Liberation Sans', Arial, sans-serif" font-weight="bold" font-size="21.5" text-anchor="middle" transform="translate(1061.8,268.4) rotate(-90) scale(1,1.2)" x="0" y="6.3">$</text>
<rect x="108.5" y="618.5" width="221" height="20" fill="#fff" stroke="#000" stroke-width="1" shape-rendering="crispEdges"/>
<rect x="113" y="626" width="31" height="2" fill="#006400" shape-rendering="crispEdges"/>
<rect x="222" y="627" width="33" height="1" fill="#006400" shape-rendering="crispEdges"/>
<text font-family="'Liberation Sans', Arial, sans-serif" font-size="14" x="154" y="632.5">Winnings</text>
<text font-family="'Liberation Sans', Arial, sans-serif" font-size="14" x="264.5" y="632.5">All-In EV</text>
<g shape-rendering="auto">
<rect x="10" y="7" width="128" height="46" fill="#20203c"/>
<rect x="11" y="8" width="126" height="44" fill="#b4b4a4"/>
<polygon points="11,8 93.3,8 11,37.4" fill="#d8d8f8"/>
<polygon points="93.3,8 115.5,8 11,46 11,37.4" fill="#d8d8a8"/>
<polygon points="55,52 137,28.1 137,52" fill="#9494ac"/>
</g>
<g font-family="'DejaVu Sans', Verdana, sans-serif" font-size="12" fill="#161626" lengthAdjust="spacingAndGlyphs">
<text x="12.6" y="17.8" textLength="91.2" lengthAdjust="spacingAndGlyphs">Filter: No Filter</text>
<text x="12.6" y="32.7" textLength="66.5" lengthAdjust="spacingAndGlyphs">Last Month</text>
<text x="12.6" y="47.5" textLength="121.5" lengthAdjust="spacingAndGlyphs">Winnings: $-430.47</text>
</g>
</svg>
</body></html>
